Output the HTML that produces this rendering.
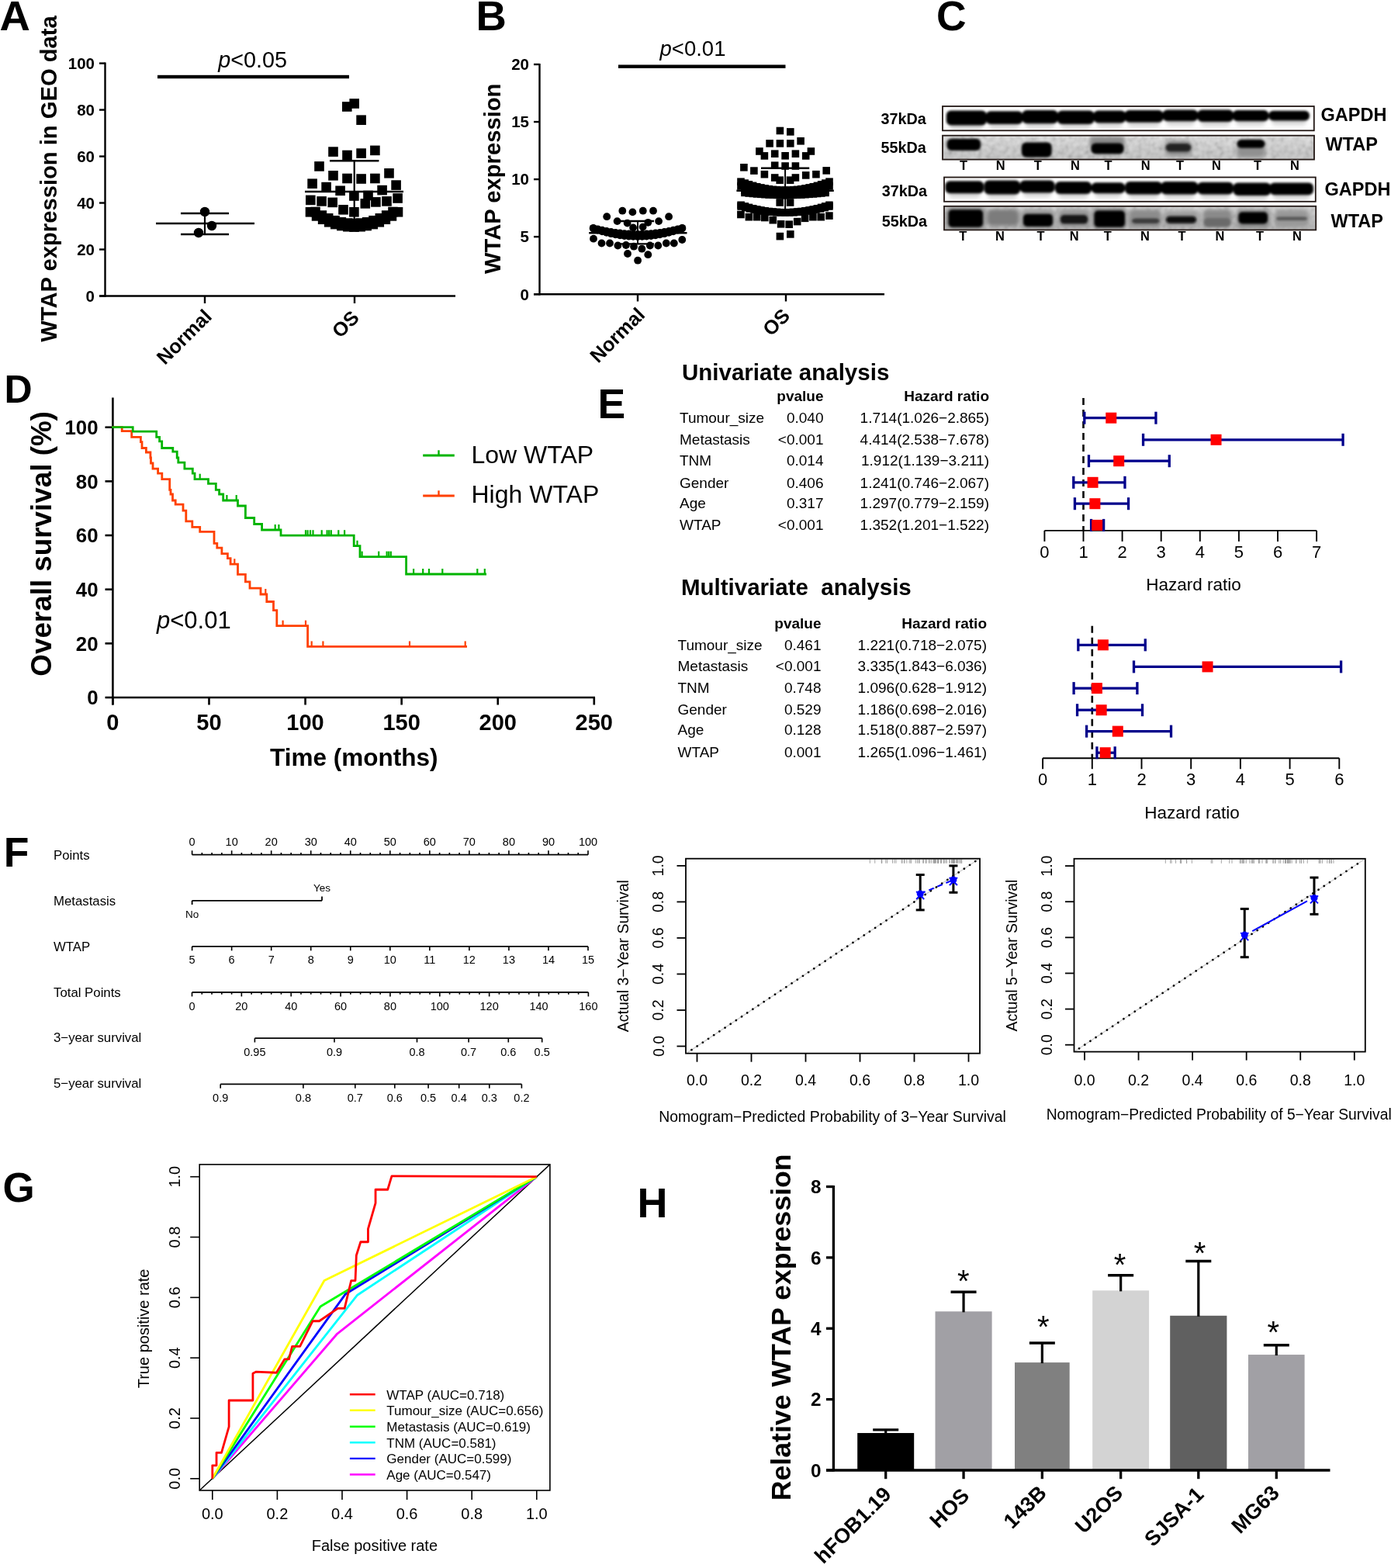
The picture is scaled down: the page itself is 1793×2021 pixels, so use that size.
<!DOCTYPE html><html><head><meta charset="utf-8"><style>html,body{margin:0;padding:0;background:#fff}svg{display:block}</style></head><body>
<svg width="1793" height="2021" viewBox="0 0 1793 2021" font-family="'Liberation Sans', Arial, sans-serif">
<rect width="1793" height="2021" fill="#fff"/>
<text x="-0.5" y="39" font-size="54.5" font-weight="bold">A</text>
<line x1="135.5" y1="80.6" x2="135.5" y2="382.7" stroke="#000" stroke-width="2.4" />
<line x1="128" y1="381.5" x2="135.5" y2="381.5" stroke="#000" stroke-width="2.4" />
<text x="122" y="388.8" font-size="20.5" font-weight="bold" text-anchor="end">0</text>
<line x1="128" y1="321.52" x2="135.5" y2="321.52" stroke="#000" stroke-width="2.4" />
<text x="122" y="328.82" font-size="20.5" font-weight="bold" text-anchor="end">20</text>
<line x1="128" y1="261.54" x2="135.5" y2="261.54" stroke="#000" stroke-width="2.4" />
<text x="122" y="268.84" font-size="20.5" font-weight="bold" text-anchor="end">40</text>
<line x1="128" y1="201.56" x2="135.5" y2="201.56" stroke="#000" stroke-width="2.4" />
<text x="122" y="208.86" font-size="20.5" font-weight="bold" text-anchor="end">60</text>
<line x1="128" y1="141.58" x2="135.5" y2="141.58" stroke="#000" stroke-width="2.4" />
<text x="122" y="148.88" font-size="20.5" font-weight="bold" text-anchor="end">80</text>
<line x1="128" y1="81.6" x2="135.5" y2="81.6" stroke="#000" stroke-width="2.4" />
<text x="122" y="88.9" font-size="20.5" font-weight="bold" text-anchor="end">100</text>
<line x1="128" y1="381.5" x2="587" y2="381.5" stroke="#000" stroke-width="2.6" />
<line x1="264" y1="381.5" x2="264" y2="391" stroke="#000" stroke-width="2.4" />
<line x1="457" y1="381.5" x2="457" y2="391" stroke="#000" stroke-width="2.4" />
<text x="274.4" y="409.5" font-size="25.4" font-weight="bold" text-anchor="end" transform="rotate(-45 274.4 409.5)">Normal</text>
<text x="464.5" y="411" font-size="25.4" font-weight="bold" text-anchor="end" transform="rotate(-45 464.5 411)">OS</text>
<text x="73" y="230.5" font-size="29.2" font-weight="bold" text-anchor="middle" transform="rotate(-90 73 230.5)">WTAP expression in GEO data</text>
<text x="325.7" y="86.8" font-size="28.8" text-anchor="middle"><tspan font-style="italic">p</tspan>&lt;0.05</text>
<rect x="203" y="96.8" width="247" height="4.4" fill="#000" />
<circle cx="264" cy="273" r="6.2" fill="#000" />
<circle cx="273" cy="291" r="6.2" fill="#000" />
<circle cx="256" cy="300" r="6.2" fill="#000" />
<line x1="201" y1="288" x2="328" y2="288" stroke="#000" stroke-width="2.6" />
<line x1="233" y1="275" x2="295" y2="275" stroke="#000" stroke-width="2.6" />
<line x1="233" y1="302" x2="295" y2="302" stroke="#000" stroke-width="2.6" />
<line x1="264" y1="275" x2="264" y2="302" stroke="#000" stroke-width="2.2" />
<rect x="441" y="131.2" width="12.6" height="12.6" fill="#000" />
<rect x="450.4" y="127.2" width="12.6" height="12.6" fill="#000" />
<rect x="459.3" y="148.4" width="12.6" height="12.6" fill="#000" />
<rect x="423.2" y="189.3" width="12.6" height="12.6" fill="#000" />
<rect x="441.2" y="193.7" width="12.6" height="12.6" fill="#000" />
<rect x="459.3" y="191.3" width="12.6" height="12.6" fill="#000" />
<rect x="477.1" y="187.6" width="12.6" height="12.6" fill="#000" />
<rect x="405.2" y="208.1" width="12.6" height="12.6" fill="#000" />
<rect x="423.2" y="220" width="12.6" height="12.6" fill="#000" />
<rect x="441.2" y="223.7" width="12.6" height="12.6" fill="#000" />
<rect x="459.3" y="224.2" width="12.6" height="12.6" fill="#000" />
<rect x="477.1" y="223.7" width="12.6" height="12.6" fill="#000" />
<rect x="495.2" y="217" width="12.6" height="12.6" fill="#000" />
<rect x="396.3" y="230.4" width="12.6" height="12.6" fill="#000" />
<rect x="414.3" y="234.8" width="12.6" height="12.6" fill="#000" />
<rect x="432.3" y="239.5" width="12.6" height="12.6" fill="#000" />
<rect x="486.3" y="238.8" width="12.6" height="12.6" fill="#000" />
<rect x="504.3" y="232.3" width="12.6" height="12.6" fill="#000" />
<rect x="394" y="251.6" width="12.6" height="12.6" fill="#000" />
<rect x="408.3" y="253.1" width="12.6" height="12.6" fill="#000" />
<rect x="422.4" y="254.6" width="12.6" height="12.6" fill="#000" />
<rect x="450.1" y="246.2" width="12.6" height="12.6" fill="#000" />
<rect x="468.2" y="245.7" width="12.6" height="12.6" fill="#000" />
<rect x="464.5" y="256.1" width="12.6" height="12.6" fill="#000" />
<rect x="478.1" y="254.1" width="12.6" height="12.6" fill="#000" />
<rect x="492.2" y="253.1" width="12.6" height="12.6" fill="#000" />
<rect x="506.3" y="249.2" width="12.6" height="12.6" fill="#000" />
<rect x="436.2" y="264" width="12.6" height="12.6" fill="#000" />
<rect x="450.1" y="267" width="12.6" height="12.6" fill="#000" />
<rect x="393.7" y="267" width="12.6" height="12.6" fill="#000" />
<rect x="401.77" y="272.12" width="12.6" height="12.6" fill="#000" />
<rect x="409.84" y="276.45" width="12.6" height="12.6" fill="#000" />
<rect x="417.91" y="280" width="12.6" height="12.6" fill="#000" />
<rect x="425.99" y="282.76" width="12.6" height="12.6" fill="#000" />
<rect x="434.06" y="284.72" width="12.6" height="12.6" fill="#000" />
<rect x="442.13" y="285.91" width="12.6" height="12.6" fill="#000" />
<rect x="450.2" y="286.3" width="12.6" height="12.6" fill="#000" />
<rect x="458.27" y="285.91" width="12.6" height="12.6" fill="#000" />
<rect x="466.34" y="284.72" width="12.6" height="12.6" fill="#000" />
<rect x="474.41" y="282.76" width="12.6" height="12.6" fill="#000" />
<rect x="482.49" y="280" width="12.6" height="12.6" fill="#000" />
<rect x="490.56" y="276.45" width="12.6" height="12.6" fill="#000" />
<rect x="498.63" y="272.12" width="12.6" height="12.6" fill="#000" />
<rect x="506.7" y="267" width="12.6" height="12.6" fill="#000" />
<rect x="400.2" y="266.7" width="12.6" height="12.6" fill="#000" />
<rect x="408.53" y="271.28" width="12.6" height="12.6" fill="#000" />
<rect x="416.87" y="275.03" width="12.6" height="12.6" fill="#000" />
<rect x="425.2" y="277.95" width="12.6" height="12.6" fill="#000" />
<rect x="433.53" y="280.03" width="12.6" height="12.6" fill="#000" />
<rect x="441.87" y="281.28" width="12.6" height="12.6" fill="#000" />
<rect x="450.2" y="281.7" width="12.6" height="12.6" fill="#000" />
<rect x="458.53" y="281.28" width="12.6" height="12.6" fill="#000" />
<rect x="466.87" y="280.03" width="12.6" height="12.6" fill="#000" />
<rect x="475.2" y="277.95" width="12.6" height="12.6" fill="#000" />
<rect x="483.53" y="275.03" width="12.6" height="12.6" fill="#000" />
<rect x="491.87" y="271.28" width="12.6" height="12.6" fill="#000" />
<rect x="500.2" y="266.7" width="12.6" height="12.6" fill="#000" />
<line x1="393" y1="247" x2="520" y2="247" stroke="#000" stroke-width="2.6" />
<line x1="425" y1="207.3" x2="488.4" y2="207.3" stroke="#000" stroke-width="2.6" />
<line x1="456.7" y1="207.3" x2="456.7" y2="285" stroke="#000" stroke-width="2.2" />
<text x="613.5" y="38.8" font-size="54.5" font-weight="bold">B</text>
<line x1="695.5" y1="82" x2="695.5" y2="380.4" stroke="#000" stroke-width="2.4" />
<line x1="688" y1="379.2" x2="695.5" y2="379.2" stroke="#000" stroke-width="2.4" />
<text x="682" y="386.5" font-size="20.5" font-weight="bold" text-anchor="end">0</text>
<line x1="688" y1="305.15" x2="695.5" y2="305.15" stroke="#000" stroke-width="2.4" />
<text x="682" y="312.45" font-size="20.5" font-weight="bold" text-anchor="end">5</text>
<line x1="688" y1="231.1" x2="695.5" y2="231.1" stroke="#000" stroke-width="2.4" />
<text x="682" y="238.4" font-size="20.5" font-weight="bold" text-anchor="end">10</text>
<line x1="688" y1="157.05" x2="695.5" y2="157.05" stroke="#000" stroke-width="2.4" />
<text x="682" y="164.35" font-size="20.5" font-weight="bold" text-anchor="end">15</text>
<line x1="688" y1="83" x2="695.5" y2="83" stroke="#000" stroke-width="2.4" />
<text x="682" y="90.3" font-size="20.5" font-weight="bold" text-anchor="end">20</text>
<line x1="688" y1="379.2" x2="1140" y2="379.2" stroke="#000" stroke-width="2.6" />
<line x1="822" y1="379.2" x2="822" y2="388.5" stroke="#000" stroke-width="2.4" />
<line x1="1013" y1="379.2" x2="1013" y2="388.5" stroke="#000" stroke-width="2.4" />
<text x="832.8" y="407.2" font-size="25.4" font-weight="bold" text-anchor="end" transform="rotate(-45 832.8 407.2)">Normal</text>
<text x="1019.8" y="408.6" font-size="25.4" font-weight="bold" text-anchor="end" transform="rotate(-45 1019.8 408.6)">OS</text>
<text x="645" y="230.3" font-size="29.2" font-weight="bold" text-anchor="middle" transform="rotate(-90 645 230.3)">WTAP expression</text>
<text x="893" y="72" font-size="27.5" text-anchor="middle"><tspan font-style="italic">p</tspan>&lt;0.01</text>
<rect x="797" y="83.5" width="215.5" height="4.4" fill="#000" />
<circle cx="802.3" cy="271.7" r="4.9" fill="#000" />
<circle cx="815.4" cy="273.4" r="4.9" fill="#000" />
<circle cx="828.8" cy="271.7" r="4.9" fill="#000" />
<circle cx="842" cy="271.7" r="4.9" fill="#000" />
<circle cx="782.2" cy="279.2" r="4.9" fill="#000" />
<circle cx="862.1" cy="279.2" r="4.9" fill="#000" />
<circle cx="795.6" cy="285.1" r="4.9" fill="#000" />
<circle cx="808.6" cy="287.6" r="4.9" fill="#000" />
<circle cx="835.3" cy="286.8" r="4.9" fill="#000" />
<circle cx="849.1" cy="285.1" r="4.9" fill="#000" />
<circle cx="816.1" cy="293.5" r="4.9" fill="#000" />
<circle cx="828.6" cy="292.6" r="4.9" fill="#000" />
<circle cx="765" cy="307.7" r="4.9" fill="#000" />
<circle cx="775.5" cy="313.5" r="4.9" fill="#000" />
<circle cx="786" cy="313.5" r="4.9" fill="#000" />
<circle cx="796.4" cy="316.5" r="4.9" fill="#000" />
<circle cx="806.9" cy="316" r="4.9" fill="#000" />
<circle cx="817" cy="317.7" r="4.9" fill="#000" />
<circle cx="827.4" cy="320.7" r="4.9" fill="#000" />
<circle cx="837.8" cy="316.5" r="4.9" fill="#000" />
<circle cx="848.3" cy="316.5" r="4.9" fill="#000" />
<circle cx="858.8" cy="313.5" r="4.9" fill="#000" />
<circle cx="868.8" cy="313.5" r="4.9" fill="#000" />
<circle cx="879.3" cy="309" r="4.9" fill="#000" />
<circle cx="809" cy="327" r="4.9" fill="#000" />
<circle cx="835.3" cy="328.2" r="4.9" fill="#000" />
<circle cx="822.1" cy="335.7" r="4.9" fill="#000" />
<circle cx="764.7" cy="293.8" r="4.9" fill="#000" />
<circle cx="770.43" cy="295.32" r="4.9" fill="#000" />
<circle cx="776.16" cy="296.68" r="4.9" fill="#000" />
<circle cx="781.89" cy="297.88" r="4.9" fill="#000" />
<circle cx="787.62" cy="298.92" r="4.9" fill="#000" />
<circle cx="793.35" cy="299.8" r="4.9" fill="#000" />
<circle cx="799.08" cy="300.52" r="4.9" fill="#000" />
<circle cx="804.81" cy="301.08" r="4.9" fill="#000" />
<circle cx="810.54" cy="301.48" r="4.9" fill="#000" />
<circle cx="816.27" cy="301.72" r="4.9" fill="#000" />
<circle cx="822" cy="301.8" r="4.9" fill="#000" />
<circle cx="827.73" cy="301.72" r="4.9" fill="#000" />
<circle cx="833.46" cy="301.48" r="4.9" fill="#000" />
<circle cx="839.19" cy="301.08" r="4.9" fill="#000" />
<circle cx="844.92" cy="300.52" r="4.9" fill="#000" />
<circle cx="850.65" cy="299.8" r="4.9" fill="#000" />
<circle cx="856.38" cy="298.92" r="4.9" fill="#000" />
<circle cx="862.11" cy="297.88" r="4.9" fill="#000" />
<circle cx="867.84" cy="296.68" r="4.9" fill="#000" />
<circle cx="873.57" cy="295.32" r="4.9" fill="#000" />
<circle cx="879.3" cy="293.8" r="4.9" fill="#000" />
<circle cx="764.7" cy="294.5" r="4.9" fill="#000" />
<circle cx="770.43" cy="296.5" r="4.9" fill="#000" />
<circle cx="776.16" cy="298.28" r="4.9" fill="#000" />
<circle cx="781.89" cy="299.86" r="4.9" fill="#000" />
<circle cx="787.62" cy="301.22" r="4.9" fill="#000" />
<circle cx="793.35" cy="302.38" r="4.9" fill="#000" />
<circle cx="799.08" cy="303.32" r="4.9" fill="#000" />
<circle cx="804.81" cy="304.06" r="4.9" fill="#000" />
<circle cx="810.54" cy="304.58" r="4.9" fill="#000" />
<circle cx="816.27" cy="304.89" r="4.9" fill="#000" />
<circle cx="822" cy="305" r="4.9" fill="#000" />
<circle cx="827.73" cy="304.89" r="4.9" fill="#000" />
<circle cx="833.46" cy="304.58" r="4.9" fill="#000" />
<circle cx="839.19" cy="304.06" r="4.9" fill="#000" />
<circle cx="844.92" cy="303.32" r="4.9" fill="#000" />
<circle cx="850.65" cy="302.38" r="4.9" fill="#000" />
<circle cx="856.38" cy="301.22" r="4.9" fill="#000" />
<circle cx="862.11" cy="299.86" r="4.9" fill="#000" />
<circle cx="867.84" cy="298.28" r="4.9" fill="#000" />
<circle cx="873.57" cy="296.5" r="4.9" fill="#000" />
<circle cx="879.3" cy="294.5" r="4.9" fill="#000" />
<line x1="759.2" y1="300.2" x2="885.5" y2="300.2" stroke="#000" stroke-width="2.4" />
<line x1="800" y1="285" x2="843" y2="285" stroke="#000" stroke-width="2.4" />
<line x1="800" y1="314.4" x2="843" y2="314.4" stroke="#000" stroke-width="2.4" />
<line x1="822" y1="285" x2="822" y2="314.4" stroke="#000" stroke-width="2" />
<rect x="1000.6" y="163.7" width="9.6" height="9.6" fill="#000" />
<rect x="1014" y="165.1" width="9.6" height="9.6" fill="#000" />
<rect x="987.3" y="180.1" width="9.6" height="9.6" fill="#000" />
<rect x="1000.6" y="180.1" width="9.6" height="9.6" fill="#000" />
<rect x="1014" y="180.1" width="9.6" height="9.6" fill="#000" />
<rect x="1027.3" y="177" width="9.6" height="9.6" fill="#000" />
<rect x="974.1" y="190.2" width="9.6" height="9.6" fill="#000" />
<rect x="980.6" y="196.1" width="9.6" height="9.6" fill="#000" />
<rect x="993.9" y="193.4" width="9.6" height="9.6" fill="#000" />
<rect x="1007.3" y="196" width="9.6" height="9.6" fill="#000" />
<rect x="1020.6" y="193.4" width="9.6" height="9.6" fill="#000" />
<rect x="1033.9" y="196.1" width="9.6" height="9.6" fill="#000" />
<rect x="1040.6" y="190.2" width="9.6" height="9.6" fill="#000" />
<rect x="954.1" y="211" width="9.6" height="9.6" fill="#000" />
<rect x="967.1" y="215.3" width="9.6" height="9.6" fill="#000" />
<rect x="993.9" y="208.4" width="9.6" height="9.6" fill="#000" />
<rect x="1007.3" y="209.2" width="9.6" height="9.6" fill="#000" />
<rect x="1020.6" y="209.2" width="9.6" height="9.6" fill="#000" />
<rect x="1060.4" y="215.1" width="9.6" height="9.6" fill="#000" />
<rect x="980.6" y="219.9" width="9.6" height="9.6" fill="#000" />
<rect x="993.9" y="224.2" width="9.6" height="9.6" fill="#000" />
<rect x="1000.4" y="227.4" width="9.6" height="9.6" fill="#000" />
<rect x="1013.8" y="227.4" width="9.6" height="9.6" fill="#000" />
<rect x="1020.6" y="224.2" width="9.6" height="9.6" fill="#000" />
<rect x="1033.9" y="221.1" width="9.6" height="9.6" fill="#000" />
<rect x="1047.1" y="219.9" width="9.6" height="9.6" fill="#000" />
<rect x="950.1" y="271.7" width="9.6" height="9.6" fill="#000" />
<rect x="960.6" y="274.9" width="9.6" height="9.6" fill="#000" />
<rect x="970.9" y="274.9" width="9.6" height="9.6" fill="#000" />
<rect x="981" y="275.7" width="9.6" height="9.6" fill="#000" />
<rect x="991.5" y="278.9" width="9.6" height="9.6" fill="#000" />
<rect x="1001.8" y="284" width="9.6" height="9.6" fill="#000" />
<rect x="1012.4" y="284.4" width="9.6" height="9.6" fill="#000" />
<rect x="1022.9" y="280.8" width="9.6" height="9.6" fill="#000" />
<rect x="1032.8" y="276.5" width="9.6" height="9.6" fill="#000" />
<rect x="1043.1" y="274.9" width="9.6" height="9.6" fill="#000" />
<rect x="1053.4" y="274.9" width="9.6" height="9.6" fill="#000" />
<rect x="1064.1" y="273.3" width="9.6" height="9.6" fill="#000" />
<rect x="1000.6" y="299.8" width="9.6" height="9.6" fill="#000" />
<rect x="1014" y="297.1" width="9.6" height="9.6" fill="#000" />
<rect x="1000.4" y="256.2" width="9.6" height="9.6" fill="#000" />
<rect x="1013.8" y="256.2" width="9.6" height="9.6" fill="#000" />
<rect x="950.2" y="229.4" width="9.6" height="9.6" fill="#000" />
<rect x="955.38" y="231.31" width="9.6" height="9.6" fill="#000" />
<rect x="960.56" y="233.04" width="9.6" height="9.6" fill="#000" />
<rect x="965.75" y="234.58" width="9.6" height="9.6" fill="#000" />
<rect x="970.93" y="235.95" width="9.6" height="9.6" fill="#000" />
<rect x="976.11" y="237.13" width="9.6" height="9.6" fill="#000" />
<rect x="981.29" y="238.13" width="9.6" height="9.6" fill="#000" />
<rect x="986.47" y="238.95" width="9.6" height="9.6" fill="#000" />
<rect x="991.65" y="239.58" width="9.6" height="9.6" fill="#000" />
<rect x="996.84" y="240.04" width="9.6" height="9.6" fill="#000" />
<rect x="1002.02" y="240.31" width="9.6" height="9.6" fill="#000" />
<rect x="1007.2" y="240.4" width="9.6" height="9.6" fill="#000" />
<rect x="1012.38" y="240.31" width="9.6" height="9.6" fill="#000" />
<rect x="1017.56" y="240.04" width="9.6" height="9.6" fill="#000" />
<rect x="1022.75" y="239.58" width="9.6" height="9.6" fill="#000" />
<rect x="1027.93" y="238.95" width="9.6" height="9.6" fill="#000" />
<rect x="1033.11" y="238.13" width="9.6" height="9.6" fill="#000" />
<rect x="1038.29" y="237.13" width="9.6" height="9.6" fill="#000" />
<rect x="1043.47" y="235.95" width="9.6" height="9.6" fill="#000" />
<rect x="1048.65" y="234.58" width="9.6" height="9.6" fill="#000" />
<rect x="1053.84" y="233.04" width="9.6" height="9.6" fill="#000" />
<rect x="1059.02" y="231.31" width="9.6" height="9.6" fill="#000" />
<rect x="1064.2" y="229.4" width="9.6" height="9.6" fill="#000" />
<rect x="950.2" y="235.2" width="9.6" height="9.6" fill="#000" />
<rect x="955.38" y="236.59" width="9.6" height="9.6" fill="#000" />
<rect x="960.56" y="237.84" width="9.6" height="9.6" fill="#000" />
<rect x="965.75" y="238.97" width="9.6" height="9.6" fill="#000" />
<rect x="970.93" y="239.96" width="9.6" height="9.6" fill="#000" />
<rect x="976.11" y="240.82" width="9.6" height="9.6" fill="#000" />
<rect x="981.29" y="241.55" width="9.6" height="9.6" fill="#000" />
<rect x="986.47" y="242.14" width="9.6" height="9.6" fill="#000" />
<rect x="991.65" y="242.6" width="9.6" height="9.6" fill="#000" />
<rect x="996.84" y="242.94" width="9.6" height="9.6" fill="#000" />
<rect x="1002.02" y="243.13" width="9.6" height="9.6" fill="#000" />
<rect x="1007.2" y="243.2" width="9.6" height="9.6" fill="#000" />
<rect x="1012.38" y="243.13" width="9.6" height="9.6" fill="#000" />
<rect x="1017.56" y="242.94" width="9.6" height="9.6" fill="#000" />
<rect x="1022.75" y="242.6" width="9.6" height="9.6" fill="#000" />
<rect x="1027.93" y="242.14" width="9.6" height="9.6" fill="#000" />
<rect x="1033.11" y="241.55" width="9.6" height="9.6" fill="#000" />
<rect x="1038.29" y="240.82" width="9.6" height="9.6" fill="#000" />
<rect x="1043.47" y="239.96" width="9.6" height="9.6" fill="#000" />
<rect x="1048.65" y="238.97" width="9.6" height="9.6" fill="#000" />
<rect x="1053.84" y="237.84" width="9.6" height="9.6" fill="#000" />
<rect x="1059.02" y="236.59" width="9.6" height="9.6" fill="#000" />
<rect x="1064.2" y="235.2" width="9.6" height="9.6" fill="#000" />
<rect x="955.2" y="241.2" width="9.6" height="9.6" fill="#000" />
<rect x="960.4" y="242.24" width="9.6" height="9.6" fill="#000" />
<rect x="965.6" y="243.18" width="9.6" height="9.6" fill="#000" />
<rect x="970.8" y="244" width="9.6" height="9.6" fill="#000" />
<rect x="976" y="244.72" width="9.6" height="9.6" fill="#000" />
<rect x="981.2" y="245.32" width="9.6" height="9.6" fill="#000" />
<rect x="986.4" y="245.82" width="9.6" height="9.6" fill="#000" />
<rect x="991.6" y="246.2" width="9.6" height="9.6" fill="#000" />
<rect x="996.8" y="246.48" width="9.6" height="9.6" fill="#000" />
<rect x="1002" y="246.64" width="9.6" height="9.6" fill="#000" />
<rect x="1007.2" y="246.7" width="9.6" height="9.6" fill="#000" />
<rect x="1012.4" y="246.64" width="9.6" height="9.6" fill="#000" />
<rect x="1017.6" y="246.48" width="9.6" height="9.6" fill="#000" />
<rect x="1022.8" y="246.2" width="9.6" height="9.6" fill="#000" />
<rect x="1028" y="245.82" width="9.6" height="9.6" fill="#000" />
<rect x="1033.2" y="245.32" width="9.6" height="9.6" fill="#000" />
<rect x="1038.4" y="244.72" width="9.6" height="9.6" fill="#000" />
<rect x="1043.6" y="244" width="9.6" height="9.6" fill="#000" />
<rect x="1048.8" y="243.18" width="9.6" height="9.6" fill="#000" />
<rect x="1054" y="242.24" width="9.6" height="9.6" fill="#000" />
<rect x="1059.2" y="241.2" width="9.6" height="9.6" fill="#000" />
<rect x="955.2" y="243.6" width="9.6" height="9.6" fill="#000" />
<rect x="960.4" y="244.17" width="9.6" height="9.6" fill="#000" />
<rect x="965.6" y="244.68" width="9.6" height="9.6" fill="#000" />
<rect x="970.8" y="245.13" width="9.6" height="9.6" fill="#000" />
<rect x="976" y="245.52" width="9.6" height="9.6" fill="#000" />
<rect x="981.2" y="245.85" width="9.6" height="9.6" fill="#000" />
<rect x="986.4" y="246.12" width="9.6" height="9.6" fill="#000" />
<rect x="991.6" y="246.33" width="9.6" height="9.6" fill="#000" />
<rect x="996.8" y="246.48" width="9.6" height="9.6" fill="#000" />
<rect x="1002" y="246.57" width="9.6" height="9.6" fill="#000" />
<rect x="1007.2" y="246.6" width="9.6" height="9.6" fill="#000" />
<rect x="1012.4" y="246.57" width="9.6" height="9.6" fill="#000" />
<rect x="1017.6" y="246.48" width="9.6" height="9.6" fill="#000" />
<rect x="1022.8" y="246.33" width="9.6" height="9.6" fill="#000" />
<rect x="1028" y="246.12" width="9.6" height="9.6" fill="#000" />
<rect x="1033.2" y="245.85" width="9.6" height="9.6" fill="#000" />
<rect x="1038.4" y="245.52" width="9.6" height="9.6" fill="#000" />
<rect x="1043.6" y="245.13" width="9.6" height="9.6" fill="#000" />
<rect x="1048.8" y="244.68" width="9.6" height="9.6" fill="#000" />
<rect x="1054" y="244.17" width="9.6" height="9.6" fill="#000" />
<rect x="1059.2" y="243.6" width="9.6" height="9.6" fill="#000" />
<rect x="950.3" y="259.5" width="9.6" height="9.6" fill="#000" />
<rect x="955.47" y="261.15" width="9.6" height="9.6" fill="#000" />
<rect x="960.65" y="262.64" width="9.6" height="9.6" fill="#000" />
<rect x="965.82" y="263.98" width="9.6" height="9.6" fill="#000" />
<rect x="970.99" y="265.15" width="9.6" height="9.6" fill="#000" />
<rect x="976.16" y="266.17" width="9.6" height="9.6" fill="#000" />
<rect x="981.34" y="267.04" width="9.6" height="9.6" fill="#000" />
<rect x="986.51" y="267.74" width="9.6" height="9.6" fill="#000" />
<rect x="991.68" y="268.29" width="9.6" height="9.6" fill="#000" />
<rect x="996.85" y="268.69" width="9.6" height="9.6" fill="#000" />
<rect x="1002.03" y="268.92" width="9.6" height="9.6" fill="#000" />
<rect x="1007.2" y="269" width="9.6" height="9.6" fill="#000" />
<rect x="1012.37" y="268.92" width="9.6" height="9.6" fill="#000" />
<rect x="1017.55" y="268.69" width="9.6" height="9.6" fill="#000" />
<rect x="1022.72" y="268.29" width="9.6" height="9.6" fill="#000" />
<rect x="1027.89" y="267.74" width="9.6" height="9.6" fill="#000" />
<rect x="1033.06" y="267.04" width="9.6" height="9.6" fill="#000" />
<rect x="1038.24" y="266.17" width="9.6" height="9.6" fill="#000" />
<rect x="1043.41" y="265.15" width="9.6" height="9.6" fill="#000" />
<rect x="1048.58" y="263.98" width="9.6" height="9.6" fill="#000" />
<rect x="1053.75" y="262.64" width="9.6" height="9.6" fill="#000" />
<rect x="1058.93" y="261.15" width="9.6" height="9.6" fill="#000" />
<rect x="1064.1" y="259.5" width="9.6" height="9.6" fill="#000" />
<rect x="950.3" y="261.2" width="9.6" height="9.6" fill="#000" />
<rect x="955.99" y="262.72" width="9.6" height="9.6" fill="#000" />
<rect x="961.68" y="264.08" width="9.6" height="9.6" fill="#000" />
<rect x="967.37" y="265.28" width="9.6" height="9.6" fill="#000" />
<rect x="973.06" y="266.32" width="9.6" height="9.6" fill="#000" />
<rect x="978.75" y="267.2" width="9.6" height="9.6" fill="#000" />
<rect x="984.44" y="267.92" width="9.6" height="9.6" fill="#000" />
<rect x="990.13" y="268.48" width="9.6" height="9.6" fill="#000" />
<rect x="995.82" y="268.88" width="9.6" height="9.6" fill="#000" />
<rect x="1001.51" y="269.12" width="9.6" height="9.6" fill="#000" />
<rect x="1007.2" y="269.2" width="9.6" height="9.6" fill="#000" />
<rect x="1012.89" y="269.12" width="9.6" height="9.6" fill="#000" />
<rect x="1018.58" y="268.88" width="9.6" height="9.6" fill="#000" />
<rect x="1024.27" y="268.48" width="9.6" height="9.6" fill="#000" />
<rect x="1029.96" y="267.92" width="9.6" height="9.6" fill="#000" />
<rect x="1035.65" y="267.2" width="9.6" height="9.6" fill="#000" />
<rect x="1041.34" y="266.32" width="9.6" height="9.6" fill="#000" />
<rect x="1047.03" y="265.28" width="9.6" height="9.6" fill="#000" />
<rect x="1052.72" y="264.08" width="9.6" height="9.6" fill="#000" />
<rect x="1058.41" y="262.72" width="9.6" height="9.6" fill="#000" />
<rect x="1064.1" y="261.2" width="9.6" height="9.6" fill="#000" />
<line x1="949.4" y1="245.7" x2="1074.8" y2="245.7" stroke="#000" stroke-width="2.4" />
<line x1="981" y1="216.8" x2="1043.2" y2="216.8" stroke="#000" stroke-width="2.4" />
<line x1="1012.1" y1="216.8" x2="1012.1" y2="274" stroke="#000" stroke-width="2" />
<text x="1207" y="39" font-size="53.5" font-weight="bold">C</text>
<defs><filter id="bl" x="-20%" y="-50%" width="140%" height="200%"><feGaussianBlur stdDeviation="1.6"/></filter><filter id="bl2" x="-20%" y="-50%" width="140%" height="200%"><feGaussianBlur stdDeviation="2.6"/></filter><filter id="bl3" x="-20%" y="-50%" width="140%" height="200%"><feGaussianBlur stdDeviation="1.0"/></filter><filter id="nz" x="0" y="0" width="100%" height="100%"><feTurbulence type="fractalNoise" baseFrequency="0.18" numOctaves="2" seed="4"/><feColorMatrix type="matrix" values="0 0 0 1.6 -0.3  0 0 0 1.6 -0.3  0 0 0 1.6 -0.3  0 0 0 0 1"/><feGaussianBlur stdDeviation="0.8"/></filter><clipPath id="c1"><rect x="1215" y="137" width="479" height="31"/></clipPath><clipPath id="c2"><rect x="1215" y="175" width="479" height="30.5"/></clipPath><clipPath id="c3"><rect x="1217" y="228.5" width="479" height="31"/></clipPath><clipPath id="c4"><rect x="1217" y="266" width="479" height="30"/></clipPath></defs>
<rect x="1215" y="137" width="479" height="31" fill="#fff" />
<g clip-path="url(#c1)">
<g filter="url(#bl2)" fill="#dadada">
<rect x="1224" y="157.4" width="43.5" height="10" fill="#d8d8d8" rx="5"/>
<rect x="1274.9" y="156" width="39.3" height="10" fill="#d8d8d8" rx="5"/>
<rect x="1321.6" y="155.3" width="38" height="10" fill="#d8d8d8" rx="5"/>
<rect x="1367" y="156" width="39.3" height="10" fill="#d8d8d8" rx="5"/>
<rect x="1413.7" y="154.6" width="33.3" height="10" fill="#d8d8d8" rx="5"/>
<rect x="1453.7" y="153.7" width="41.6" height="10" fill="#d8d8d8" rx="5"/>
<rect x="1502.8" y="152.3" width="37.3" height="10" fill="#d8d8d8" rx="5"/>
<rect x="1547.6" y="153" width="38.1" height="10" fill="#d8d8d8" rx="5"/>
<rect x="1593" y="152.3" width="38.2" height="10" fill="#d8d8d8" rx="5"/>
<rect x="1639.3" y="151.6" width="44.5" height="10" fill="#d8d8d8" rx="5"/>
</g><g filter="url(#bl)">
<rect x="1219.8" y="142.5" width="51.9" height="18.9" fill="#000" rx="6"/>
<rect x="1270.7" y="143.2" width="47.7" height="16.8" fill="#000" rx="6"/>
<rect x="1317.4" y="141.9" width="46.4" height="17.4" fill="#000" rx="6"/>
<rect x="1362.8" y="142.5" width="47.7" height="17.5" fill="#000" rx="6"/>
<rect x="1409.5" y="142.5" width="41.7" height="16.1" fill="#000" rx="6"/>
<rect x="1449.5" y="142.1" width="50" height="15.6" fill="#000" rx="6"/>
<rect x="1498.6" y="141.4" width="45.7" height="14.9" fill="#000" rx="6"/>
<rect x="1543.4" y="141.4" width="46.5" height="15.6" fill="#000" rx="6"/>
<rect x="1588.8" y="142" width="46.6" height="14.3" fill="#000" rx="6"/>
<rect x="1635.1" y="142.8" width="52.9" height="12.8" fill="#000" rx="6"/>
</g></g>
<rect x="1217" y="228.5" width="479" height="31" fill="#fff" />
<g clip-path="url(#c3)">
<g filter="url(#bl2)" fill="#dadada">
<rect x="1222.6" y="245.2" width="41.4" height="10" fill="#d8d8d8" rx="5"/>
<rect x="1272.8" y="246.6" width="38" height="10" fill="#d8d8d8" rx="5"/>
<rect x="1318.8" y="244.5" width="36.6" height="10" fill="#d8d8d8" rx="5"/>
<rect x="1364.2" y="245.9" width="38.6" height="10" fill="#d8d8d8" rx="5"/>
<rect x="1410.9" y="245.2" width="35.1" height="10" fill="#d8d8d8" rx="5"/>
<rect x="1454.4" y="246.4" width="39.5" height="10" fill="#d8d8d8" rx="5"/>
<rect x="1500.6" y="246.4" width="39.5" height="10" fill="#d8d8d8" rx="5"/>
<rect x="1547.6" y="246.4" width="38.1" height="10" fill="#d8d8d8" rx="5"/>
<rect x="1593.8" y="247.9" width="40.2" height="10" fill="#d8d8d8" rx="5"/>
<rect x="1640.7" y="247.2" width="48.1" height="10" fill="#d8d8d8" rx="5"/>
</g><g filter="url(#bl)">
<rect x="1218.4" y="233.2" width="49.8" height="16" fill="#000" rx="6"/>
<rect x="1268.6" y="232.5" width="46.4" height="18.1" fill="#000" rx="6"/>
<rect x="1314.6" y="232.5" width="45" height="16" fill="#000" rx="6"/>
<rect x="1360" y="233.9" width="47" height="16" fill="#000" rx="6"/>
<rect x="1406.7" y="235.2" width="43.5" height="14" fill="#000" rx="6"/>
<rect x="1450.2" y="234.1" width="47.9" height="16.3" fill="#000" rx="6"/>
<rect x="1496.4" y="234.1" width="47.9" height="16.3" fill="#000" rx="6"/>
<rect x="1543.4" y="234.8" width="46.5" height="15.6" fill="#000" rx="6"/>
<rect x="1589.6" y="235.5" width="48.6" height="16.4" fill="#000" rx="6"/>
<rect x="1636.5" y="235.5" width="56.5" height="15.7" fill="#000" rx="6"/>
</g></g>
<linearGradient id="wg1" x1="0" y1="0" x2="0" y2="1"><stop offset="0" stop-color="#e2e2e2"/><stop offset="0.55" stop-color="#c9c9c9"/><stop offset="1" stop-color="#c4c4c4"/></linearGradient>
<linearGradient id="wg2" x1="0" y1="0" x2="0" y2="1"><stop offset="0" stop-color="#d2d2d2"/><stop offset="0.5" stop-color="#bcbcbc"/><stop offset="1" stop-color="#b4b4b4"/></linearGradient>
<g clip-path="url(#c2)">
<rect x="1215" y="175" width="479" height="30.5" fill="url(#wg1)" />
<rect x="1215" y="175" width="479" height="30.5" fill="#000" filter="url(#nz)" opacity="0.22"/>
<g filter="url(#bl2)">
<rect x="1404.3" y="176" width="45.7" height="14" fill="#8a8a8a" rx="6"/>
<rect x="1501.9" y="181" width="34.1" height="20" fill="#8f8f8f" rx="6"/>
<rect x="1594.4" y="186" width="36.2" height="17" fill="#909090" rx="6"/>
</g><g filter="url(#bl)">
<rect x="1220.5" y="178.8" width="43.7" height="15.1" fill="#000" rx="6"/>
<rect x="1316.8" y="183.6" width="38.9" height="19.1" fill="#050505" rx="6"/>
<rect x="1406.3" y="184.5" width="42.4" height="14" fill="#000" rx="6"/>
<rect x="1502.5" y="185" width="33" height="10.5" fill="#222" rx="6"/>
<rect x="1594.4" y="179.8" width="36.2" height="11" fill="#000" rx="6"/>
</g></g>
<g clip-path="url(#c4)">
<rect x="1217" y="266" width="479" height="30" fill="url(#wg2)" />
<rect x="1217" y="266" width="479" height="30" fill="#000" filter="url(#nz)" opacity="0.22"/>
<g filter="url(#bl2)">
<rect x="1220" y="267" width="50" height="28" fill="#8a8a8a" rx="6"/>
<rect x="1272.4" y="269.5" width="41" height="21.5" fill="#7c7c7c" rx="6"/>
<rect x="1316" y="270" width="44" height="25" fill="#9a9a9a" rx="6"/>
<rect x="1364" y="270" width="41" height="23" fill="#959595" rx="6"/>
<rect x="1408" y="268" width="44" height="27" fill="#8a8a8a" rx="6"/>
<rect x="1455" y="270" width="42" height="23" fill="#8c8c8c" rx="6"/>
<rect x="1500" y="272" width="45" height="20" fill="#9c9c9c" rx="6"/>
<rect x="1550.4" y="270" width="37.6" height="23" fill="#8a8a8a" rx="6"/>
<rect x="1594" y="270" width="43" height="24" fill="#8a8a8a" rx="6"/>
<rect x="1643" y="270" width="44" height="23" fill="#999" rx="6"/>
</g><g filter="url(#bl)">
<rect x="1222.5" y="270.2" width="44.5" height="22.5" fill="#000" rx="5"/>
<rect x="1318.9" y="275.7" width="38.2" height="16.3" fill="#000" rx="5"/>
<rect x="1366.7" y="277" width="35.5" height="11.6" fill="#151515" rx="5"/>
<rect x="1410.4" y="271.6" width="39.6" height="21.1" fill="#000" rx="5"/>
<rect x="1459" y="281.5" width="35.6" height="6.5" fill="#3a3a3a" rx="5"/>
<rect x="1503" y="278.7" width="39" height="9.1" fill="#080808" rx="5"/>
<rect x="1552" y="281" width="34" height="11" fill="#6a6a6a" rx="5"/>
<rect x="1596.4" y="273.2" width="37.6" height="15.3" fill="#000" rx="5"/>
<rect x="1645" y="279.5" width="40" height="4.5" fill="#555" rx="5"/>
</g></g>
<rect x="1215" y="137" width="478.8" height="31.3" fill="none" stroke="#231815" stroke-width="1.8"/>
<rect x="1215" y="174.7" width="479.0" height="30.9" fill="none" stroke="#231815" stroke-width="1.8"/>
<rect x="1217" y="228.5" width="478.8" height="31.3" fill="none" stroke="#231815" stroke-width="1.8"/>
<rect x="1217" y="265.8" width="479.2" height="30.6" fill="none" stroke="#231815" stroke-width="1.8"/>
<text x="1135.5" y="160.3" font-size="19.8" font-weight="bold">37kDa</text>
<text x="1135.5" y="197.4" font-size="19.8" font-weight="bold">55kDa</text>
<text x="1136.8" y="253.1" font-size="19.8" font-weight="bold">37kDa</text>
<text x="1136.8" y="291.7" font-size="19.8" font-weight="bold">55kDa</text>
<text x="1702.5" y="155.8" font-size="23.5" font-weight="bold">GAPDH</text>
<text x="1708.5" y="193.8" font-size="23.5" font-weight="bold">WTAP</text>
<text x="1707.5" y="251.5" font-size="23.5" font-weight="bold">GAPDH</text>
<text x="1715.5" y="292.9" font-size="23.5" font-weight="bold">WTAP</text>
<text x="1242" y="218.9" font-size="16.4" font-weight="bold" text-anchor="middle">T</text>
<text x="1289.7" y="218.9" font-size="16.4" font-weight="bold" text-anchor="middle">N</text>
<text x="1337.7" y="218.9" font-size="16.4" font-weight="bold" text-anchor="middle">T</text>
<text x="1385.8" y="218.9" font-size="16.4" font-weight="bold" text-anchor="middle">N</text>
<text x="1428.6" y="218.9" font-size="16.4" font-weight="bold" text-anchor="middle">T</text>
<text x="1476.6" y="218.9" font-size="16.4" font-weight="bold" text-anchor="middle">N</text>
<text x="1520.9" y="218.9" font-size="16.4" font-weight="bold" text-anchor="middle">T</text>
<text x="1567.8" y="218.9" font-size="16.4" font-weight="bold" text-anchor="middle">N</text>
<text x="1621.1" y="218.9" font-size="16.4" font-weight="bold" text-anchor="middle">T</text>
<text x="1668.8" y="218.9" font-size="16.4" font-weight="bold" text-anchor="middle">N</text>
<text x="1241.2" y="309.7" font-size="16.4" font-weight="bold" text-anchor="middle">T</text>
<text x="1289" y="309.7" font-size="16.4" font-weight="bold" text-anchor="middle">N</text>
<text x="1341.5" y="309.7" font-size="16.4" font-weight="bold" text-anchor="middle">T</text>
<text x="1384.6" y="309.7" font-size="16.4" font-weight="bold" text-anchor="middle">N</text>
<text x="1427.8" y="309.7" font-size="16.4" font-weight="bold" text-anchor="middle">T</text>
<text x="1475.9" y="309.7" font-size="16.4" font-weight="bold" text-anchor="middle">N</text>
<text x="1523.5" y="309.7" font-size="16.4" font-weight="bold" text-anchor="middle">T</text>
<text x="1572.3" y="309.7" font-size="16.4" font-weight="bold" text-anchor="middle">N</text>
<text x="1624.1" y="309.7" font-size="16.4" font-weight="bold" text-anchor="middle">T</text>
<text x="1671.8" y="309.7" font-size="16.4" font-weight="bold" text-anchor="middle">N</text>
<text x="5.5" y="519" font-size="50" font-weight="bold">D</text>
<line x1="145.4" y1="512.5" x2="145.4" y2="908.5" stroke="#000" stroke-width="2.6" />
<line x1="135.5" y1="899" x2="145.4" y2="899" stroke="#000" stroke-width="2.6" />
<text x="126.5" y="908.2" font-size="25.8" font-weight="bold" text-anchor="end">0</text>
<line x1="135.5" y1="829.34" x2="145.4" y2="829.34" stroke="#000" stroke-width="2.6" />
<text x="126.5" y="838.54" font-size="25.8" font-weight="bold" text-anchor="end">20</text>
<line x1="135.5" y1="759.68" x2="145.4" y2="759.68" stroke="#000" stroke-width="2.6" />
<text x="126.5" y="768.88" font-size="25.8" font-weight="bold" text-anchor="end">40</text>
<line x1="135.5" y1="690.02" x2="145.4" y2="690.02" stroke="#000" stroke-width="2.6" />
<text x="126.5" y="699.22" font-size="25.8" font-weight="bold" text-anchor="end">60</text>
<line x1="135.5" y1="620.36" x2="145.4" y2="620.36" stroke="#000" stroke-width="2.6" />
<text x="126.5" y="629.56" font-size="25.8" font-weight="bold" text-anchor="end">80</text>
<line x1="135.5" y1="550.7" x2="145.4" y2="550.7" stroke="#000" stroke-width="2.6" />
<text x="126.5" y="559.9" font-size="25.8" font-weight="bold" text-anchor="end">100</text>
<line x1="145.4" y1="899" x2="767" y2="899" stroke="#000" stroke-width="2.6" />
<line x1="145.4" y1="899" x2="145.4" y2="908.5" stroke="#000" stroke-width="2.6" />
<text x="145.4" y="941.3" font-size="29" font-weight="bold" text-anchor="middle">0</text>
<line x1="269.48" y1="899" x2="269.48" y2="908.5" stroke="#000" stroke-width="2.6" />
<text x="269.48" y="941.3" font-size="29" font-weight="bold" text-anchor="middle">50</text>
<line x1="393.56" y1="899" x2="393.56" y2="908.5" stroke="#000" stroke-width="2.6" />
<text x="393.56" y="941.3" font-size="29" font-weight="bold" text-anchor="middle">100</text>
<line x1="517.64" y1="899" x2="517.64" y2="908.5" stroke="#000" stroke-width="2.6" />
<text x="517.64" y="941.3" font-size="29" font-weight="bold" text-anchor="middle">150</text>
<line x1="641.72" y1="899" x2="641.72" y2="908.5" stroke="#000" stroke-width="2.6" />
<text x="641.72" y="941.3" font-size="29" font-weight="bold" text-anchor="middle">200</text>
<line x1="765.8" y1="899" x2="765.8" y2="908.5" stroke="#000" stroke-width="2.6" />
<text x="765.8" y="941.3" font-size="29" font-weight="bold" text-anchor="middle">250</text>
<text x="456.2" y="987" font-size="31.5" font-weight="bold" text-anchor="middle">Time (months)</text>
<text x="66" y="700.9" font-size="36.8" font-weight="bold" text-anchor="middle" transform="rotate(-90 66 700.9)">Overall survival (%)</text>
<polyline points="145.5,550.6 157.2,550.6 157.2,555.6 169.7,555.6 169.7,563.4 181.4,563.4 181.4,569.7 183,569.7 183,577.5 188.4,577.5 188.4,583 193.9,583 193.9,590 194.5,590 194.5,597 197,597 197,604.1 203.6,604.1 203.6,610.2 208.8,610.2 208.8,617.7 218.7,617.7 218.7,631.4 220,631.4 220,637 222.5,637 222.5,645 226.2,645 226.2,650.2 236,650.2 236,658.1 239.8,658.1 239.8,671.8 247.8,671.8 247.8,679.3 257.7,679.3 257.7,685.4 276,685.4 276,700.4 279.8,700.4 279.8,706.1 285.9,706.1 285.9,713.6 293.4,713.6 293.4,719.7 297.1,719.7 297.1,727.2 306.5,727.2 306.5,740.4 316.4,740.4 316.4,749.8 322,749.8 322,758.2 336,758.2 336,766 343.8,766 343.8,775.5 352.5,775.5 352.5,786.7 356.8,786.7 356.8,806.6 396.6,806.6 396.6,833.4 600.6,833.4" fill="none" stroke="#ff4000" stroke-width="2.8" stroke-linejoin="miter" stroke-linecap="square"/>
<polyline points="145.5,550.6 171.2,550.6 171.2,556.1 201.7,556.1 201.7,563.4 205.6,563.4 205.6,568.9 208.7,568.9 208.7,577.5 222.8,577.5 222.8,582.2 228.2,582.2 228.2,590 229.8,590 229.8,596.2 237.9,596.2 237.9,604.1 248.3,604.1 248.3,610.2 251,610.2 251,617.7 268.5,617.7 268.5,623.4 278.3,623.4 278.3,631.4 282.6,631.4 282.6,637 287.7,637 287.7,645 306.5,645 306.5,652 316.4,652 316.4,667.5 327.7,667.5 327.7,675.5 337.6,675.5 337.6,683 362,683 362,690.2 456.2,690.2 456.2,703.7 464,703.7 464,717.6 523.6,717.6 523.6,740 625.6,740" fill="none" stroke="#00b400" stroke-width="2.8" stroke-linejoin="miter" stroke-linecap="square"/>
<line x1="257.7" y1="617.7" x2="257.7" y2="610.7" stroke="#00b400" stroke-width="2.2" />
<line x1="292.4" y1="645" x2="292.4" y2="638" stroke="#00b400" stroke-width="2.2" />
<line x1="304.7" y1="645" x2="304.7" y2="638" stroke="#00b400" stroke-width="2.2" />
<line x1="354.7" y1="683" x2="354.7" y2="676" stroke="#00b400" stroke-width="2.2" />
<line x1="359.4" y1="683" x2="359.4" y2="676" stroke="#00b400" stroke-width="2.2" />
<line x1="394" y1="690.2" x2="394" y2="683.2" stroke="#00b400" stroke-width="2.2" />
<line x1="396.6" y1="690.2" x2="396.6" y2="683.2" stroke="#00b400" stroke-width="2.2" />
<line x1="400" y1="690.2" x2="400" y2="683.2" stroke="#00b400" stroke-width="2.2" />
<line x1="403.5" y1="690.2" x2="403.5" y2="683.2" stroke="#00b400" stroke-width="2.2" />
<line x1="414.7" y1="690.2" x2="414.7" y2="683.2" stroke="#00b400" stroke-width="2.2" />
<line x1="421.6" y1="690.2" x2="421.6" y2="683.2" stroke="#00b400" stroke-width="2.2" />
<line x1="424.2" y1="690.2" x2="424.2" y2="683.2" stroke="#00b400" stroke-width="2.2" />
<line x1="426.8" y1="690.2" x2="426.8" y2="683.2" stroke="#00b400" stroke-width="2.2" />
<line x1="436.3" y1="690.2" x2="436.3" y2="683.2" stroke="#00b400" stroke-width="2.2" />
<line x1="444.1" y1="690.2" x2="444.1" y2="683.2" stroke="#00b400" stroke-width="2.2" />
<line x1="460.5" y1="703.7" x2="460.5" y2="696.7" stroke="#00b400" stroke-width="2.2" />
<line x1="466.6" y1="717.6" x2="466.6" y2="710.6" stroke="#00b400" stroke-width="2.2" />
<line x1="488.2" y1="717.6" x2="488.2" y2="710.6" stroke="#00b400" stroke-width="2.2" />
<line x1="498.6" y1="717.6" x2="498.6" y2="710.6" stroke="#00b400" stroke-width="2.2" />
<line x1="501.2" y1="717.6" x2="501.2" y2="710.6" stroke="#00b400" stroke-width="2.2" />
<line x1="503.8" y1="717.6" x2="503.8" y2="710.6" stroke="#00b400" stroke-width="2.2" />
<line x1="533.1" y1="740" x2="533.1" y2="733" stroke="#00b400" stroke-width="2.2" />
<line x1="545.2" y1="740" x2="545.2" y2="733" stroke="#00b400" stroke-width="2.2" />
<line x1="553" y1="740" x2="553" y2="733" stroke="#00b400" stroke-width="2.2" />
<line x1="570.3" y1="740" x2="570.3" y2="733" stroke="#00b400" stroke-width="2.2" />
<line x1="615.3" y1="740" x2="615.3" y2="733" stroke="#00b400" stroke-width="2.2" />
<line x1="624.8" y1="740" x2="624.8" y2="733" stroke="#00b400" stroke-width="2.2" />
<line x1="302.3" y1="727.2" x2="302.3" y2="720.2" stroke="#ff4000" stroke-width="2.2" />
<line x1="342.3" y1="766" x2="342.3" y2="759" stroke="#ff4000" stroke-width="2.2" />
<line x1="364.6" y1="806.6" x2="364.6" y2="799.6" stroke="#ff4000" stroke-width="2.2" />
<line x1="394" y1="806.6" x2="394" y2="799.6" stroke="#ff4000" stroke-width="2.2" />
<line x1="401.7" y1="833.4" x2="401.7" y2="826.4" stroke="#ff4000" stroke-width="2.2" />
<line x1="416.4" y1="833.4" x2="416.4" y2="826.4" stroke="#ff4000" stroke-width="2.2" />
<line x1="528" y1="833.4" x2="528" y2="826.4" stroke="#ff4000" stroke-width="2.2" />
<line x1="599.7" y1="833.4" x2="599.7" y2="826.4" stroke="#ff4000" stroke-width="2.2" />
<line x1="545.2" y1="587" x2="585.8" y2="587" stroke="#00b400" stroke-width="3" />
<line x1="565.5" y1="587" x2="565.5" y2="580.3" stroke="#00b400" stroke-width="2.4" />
<line x1="545.2" y1="639" x2="585.8" y2="639" stroke="#ff4000" stroke-width="3" />
<line x1="565.5" y1="639" x2="565.5" y2="632.3" stroke="#ff4000" stroke-width="2.4" />
<text x="607.5" y="597" font-size="32">Low WTAP</text>
<text x="607.5" y="647.7" font-size="32">High WTAP</text>
<text x="202" y="810.2" font-size="31"><tspan font-style="italic">p</tspan>&lt;0.01</text>
<text x="770.5" y="539.3" font-size="53.5" font-weight="bold">E</text>
<text x="879" y="490" font-size="29.5" font-weight="bold">Univariate analysis</text>
<text x="1061.5" y="516.5" font-size="19" font-weight="bold" text-anchor="end">pvalue</text>
<text x="1275" y="516.5" font-size="19" font-weight="bold" text-anchor="end">Hazard ratio</text>
<text x="876" y="545.1" font-size="19">Tumour_size</text>
<text x="1061.5" y="545.1" font-size="19" text-anchor="end">0.040</text>
<text x="1275" y="545.1" font-size="19" text-anchor="end">1.714(1.026−2.865)</text>
<text x="876" y="572.7" font-size="19">Metastasis</text>
<text x="1061.5" y="572.7" font-size="19" text-anchor="end">&lt;0.001</text>
<text x="1275" y="572.7" font-size="19" text-anchor="end">4.414(2.538−7.678)</text>
<text x="876" y="599.8" font-size="19">TNM</text>
<text x="1061.5" y="599.8" font-size="19" text-anchor="end">0.014</text>
<text x="1275" y="599.8" font-size="19" text-anchor="end">1.912(1.139−3.211)</text>
<text x="876" y="628.6" font-size="19">Gender</text>
<text x="1061.5" y="628.6" font-size="19" text-anchor="end">0.406</text>
<text x="1275" y="628.6" font-size="19" text-anchor="end">1.241(0.746−2.067)</text>
<text x="876" y="654.5" font-size="19">Age</text>
<text x="1061.5" y="654.5" font-size="19" text-anchor="end">0.317</text>
<text x="1275" y="654.5" font-size="19" text-anchor="end">1.297(0.779−2.159)</text>
<text x="876" y="683.3" font-size="19">WTAP</text>
<text x="1061.5" y="683.3" font-size="19" text-anchor="end">&lt;0.001</text>
<text x="1275" y="683.3" font-size="19" text-anchor="end">1.352(1.201−1.522)</text>
<line x1="1346.4" y1="683.9" x2="1697.1" y2="683.9" stroke="#000" stroke-width="1.9" />
<line x1="1346.4" y1="683.9" x2="1346.4" y2="697.9" stroke="#000" stroke-width="1.9" />
<text x="1346.4" y="718.9" font-size="22" text-anchor="middle">0</text>
<line x1="1396.5" y1="683.9" x2="1396.5" y2="697.9" stroke="#000" stroke-width="1.9" />
<text x="1396.5" y="718.9" font-size="22" text-anchor="middle">1</text>
<line x1="1446.6" y1="683.9" x2="1446.6" y2="697.9" stroke="#000" stroke-width="1.9" />
<text x="1446.6" y="718.9" font-size="22" text-anchor="middle">2</text>
<line x1="1496.7" y1="683.9" x2="1496.7" y2="697.9" stroke="#000" stroke-width="1.9" />
<text x="1496.7" y="718.9" font-size="22" text-anchor="middle">3</text>
<line x1="1546.8" y1="683.9" x2="1546.8" y2="697.9" stroke="#000" stroke-width="1.9" />
<text x="1546.8" y="718.9" font-size="22" text-anchor="middle">4</text>
<line x1="1596.9" y1="683.9" x2="1596.9" y2="697.9" stroke="#000" stroke-width="1.9" />
<text x="1596.9" y="718.9" font-size="22" text-anchor="middle">5</text>
<line x1="1647" y1="683.9" x2="1647" y2="697.9" stroke="#000" stroke-width="1.9" />
<text x="1647" y="718.9" font-size="22" text-anchor="middle">6</text>
<line x1="1697.1" y1="683.9" x2="1697.1" y2="697.9" stroke="#000" stroke-width="1.9" />
<text x="1697.1" y="718.9" font-size="22" text-anchor="middle">7</text>
<line x1="1396.5" y1="512.9" x2="1396.5" y2="683.9" stroke="#000" stroke-width="2.6" stroke-dasharray="9,6"/>
<line x1="1397.8" y1="538.7" x2="1489.94" y2="538.7" stroke="#00008b" stroke-width="3.3" />
<line x1="1397.8" y1="530.7" x2="1397.8" y2="546.7" stroke="#00008b" stroke-width="3.3" />
<line x1="1489.94" y1="530.7" x2="1489.94" y2="546.7" stroke="#00008b" stroke-width="3.3" />
<rect x="1425.27" y="531.7" width="14" height="14" fill="#ff0000" />
<line x1="1473.55" y1="566.8" x2="1731.07" y2="566.8" stroke="#00008b" stroke-width="3.3" />
<line x1="1473.55" y1="558.8" x2="1473.55" y2="574.8" stroke="#00008b" stroke-width="3.3" />
<line x1="1731.07" y1="558.8" x2="1731.07" y2="574.8" stroke="#00008b" stroke-width="3.3" />
<rect x="1560.54" y="559.8" width="14" height="14" fill="#ff0000" />
<line x1="1403.46" y1="594.2" x2="1507.27" y2="594.2" stroke="#00008b" stroke-width="3.3" />
<line x1="1403.46" y1="586.2" x2="1403.46" y2="602.2" stroke="#00008b" stroke-width="3.3" />
<line x1="1507.27" y1="586.2" x2="1507.27" y2="602.2" stroke="#00008b" stroke-width="3.3" />
<rect x="1435.19" y="587.2" width="14" height="14" fill="#ff0000" />
<line x1="1383.77" y1="621.8" x2="1449.96" y2="621.8" stroke="#00008b" stroke-width="3.3" />
<line x1="1383.77" y1="613.8" x2="1383.77" y2="629.8" stroke="#00008b" stroke-width="3.3" />
<line x1="1449.96" y1="613.8" x2="1449.96" y2="629.8" stroke="#00008b" stroke-width="3.3" />
<rect x="1401.57" y="614.8" width="14" height="14" fill="#ff0000" />
<line x1="1385.43" y1="649.2" x2="1454.57" y2="649.2" stroke="#00008b" stroke-width="3.3" />
<line x1="1385.43" y1="641.2" x2="1385.43" y2="657.2" stroke="#00008b" stroke-width="3.3" />
<line x1="1454.57" y1="641.2" x2="1454.57" y2="657.2" stroke="#00008b" stroke-width="3.3" />
<rect x="1404.38" y="642.2" width="14" height="14" fill="#ff0000" />
<line x1="1406.57" y1="676.9" x2="1422.65" y2="676.9" stroke="#00008b" stroke-width="3.3" />
<line x1="1406.57" y1="668.9" x2="1406.57" y2="684.9" stroke="#00008b" stroke-width="3.3" />
<line x1="1422.65" y1="668.9" x2="1422.65" y2="684.9" stroke="#00008b" stroke-width="3.3" />
<rect x="1407.14" y="669.9" width="14" height="14" fill="#ff0000" />
<text x="1538.5" y="761.2" font-size="22.5" text-anchor="middle">Hazard ratio</text>
<text x="878" y="766.9" font-size="29.5" font-weight="bold" xml:space="preserve">Multivariate  analysis</text>
<text x="1058.5" y="810.1" font-size="19" font-weight="bold" text-anchor="end">pvalue</text>
<text x="1272" y="810.1" font-size="19" font-weight="bold" text-anchor="end">Hazard ratio</text>
<text x="873.5" y="837.7" font-size="19">Tumour_size</text>
<text x="1058.5" y="837.7" font-size="19" text-anchor="end">0.461</text>
<text x="1272" y="837.7" font-size="19" text-anchor="end">1.221(0.718−2.075)</text>
<text x="873.5" y="864.8" font-size="19">Metastasis</text>
<text x="1058.5" y="864.8" font-size="19" text-anchor="end">&lt;0.001</text>
<text x="1272" y="864.8" font-size="19" text-anchor="end">3.335(1.843−6.036)</text>
<text x="873.5" y="892.5" font-size="19">TNM</text>
<text x="1058.5" y="892.5" font-size="19" text-anchor="end">0.748</text>
<text x="1272" y="892.5" font-size="19" text-anchor="end">1.096(0.628−1.912)</text>
<text x="873.5" y="920.7" font-size="19">Gender</text>
<text x="1058.5" y="920.7" font-size="19" text-anchor="end">0.529</text>
<text x="1272" y="920.7" font-size="19" text-anchor="end">1.186(0.698−2.016)</text>
<text x="873.5" y="947.2" font-size="19">Age</text>
<text x="1058.5" y="947.2" font-size="19" text-anchor="end">0.128</text>
<text x="1272" y="947.2" font-size="19" text-anchor="end">1.518(0.887−2.597)</text>
<text x="873.5" y="976" font-size="19">WTAP</text>
<text x="1058.5" y="976" font-size="19" text-anchor="end">0.001</text>
<text x="1272" y="976" font-size="19" text-anchor="end">1.265(1.096−1.461)</text>
<line x1="1344.1" y1="977.2" x2="1726.3" y2="977.2" stroke="#000" stroke-width="1.9" />
<line x1="1344.1" y1="977.2" x2="1344.1" y2="991.2" stroke="#000" stroke-width="1.9" />
<text x="1344.1" y="1012.2" font-size="22" text-anchor="middle">0</text>
<line x1="1407.8" y1="977.2" x2="1407.8" y2="991.2" stroke="#000" stroke-width="1.9" />
<text x="1407.8" y="1012.2" font-size="22" text-anchor="middle">1</text>
<line x1="1471.5" y1="977.2" x2="1471.5" y2="991.2" stroke="#000" stroke-width="1.9" />
<text x="1471.5" y="1012.2" font-size="22" text-anchor="middle">2</text>
<line x1="1535.2" y1="977.2" x2="1535.2" y2="991.2" stroke="#000" stroke-width="1.9" />
<text x="1535.2" y="1012.2" font-size="22" text-anchor="middle">3</text>
<line x1="1598.9" y1="977.2" x2="1598.9" y2="991.2" stroke="#000" stroke-width="1.9" />
<text x="1598.9" y="1012.2" font-size="22" text-anchor="middle">4</text>
<line x1="1662.6" y1="977.2" x2="1662.6" y2="991.2" stroke="#000" stroke-width="1.9" />
<text x="1662.6" y="1012.2" font-size="22" text-anchor="middle">5</text>
<line x1="1726.3" y1="977.2" x2="1726.3" y2="991.2" stroke="#000" stroke-width="1.9" />
<text x="1726.3" y="1012.2" font-size="22" text-anchor="middle">6</text>
<line x1="1407.8" y1="806.7" x2="1407.8" y2="977.2" stroke="#000" stroke-width="2.6" stroke-dasharray="9,6"/>
<line x1="1389.84" y1="831.3" x2="1476.28" y2="831.3" stroke="#00008b" stroke-width="3.3" />
<line x1="1389.84" y1="823.3" x2="1389.84" y2="839.3" stroke="#00008b" stroke-width="3.3" />
<line x1="1476.28" y1="823.3" x2="1476.28" y2="839.3" stroke="#00008b" stroke-width="3.3" />
<rect x="1414.88" y="824.3" width="14" height="14" fill="#ff0000" />
<line x1="1461.5" y1="859.4" x2="1728.59" y2="859.4" stroke="#00008b" stroke-width="3.3" />
<line x1="1461.5" y1="851.4" x2="1461.5" y2="867.4" stroke="#00008b" stroke-width="3.3" />
<line x1="1728.59" y1="851.4" x2="1728.59" y2="867.4" stroke="#00008b" stroke-width="3.3" />
<rect x="1549.54" y="852.4" width="14" height="14" fill="#ff0000" />
<line x1="1384.1" y1="887.1" x2="1465.89" y2="887.1" stroke="#00008b" stroke-width="3.3" />
<line x1="1384.1" y1="879.1" x2="1384.1" y2="895.1" stroke="#00008b" stroke-width="3.3" />
<line x1="1465.89" y1="879.1" x2="1465.89" y2="895.1" stroke="#00008b" stroke-width="3.3" />
<rect x="1406.92" y="880.1" width="14" height="14" fill="#ff0000" />
<line x1="1388.56" y1="915.2" x2="1472.52" y2="915.2" stroke="#00008b" stroke-width="3.3" />
<line x1="1388.56" y1="907.2" x2="1388.56" y2="923.2" stroke="#00008b" stroke-width="3.3" />
<line x1="1472.52" y1="907.2" x2="1472.52" y2="923.2" stroke="#00008b" stroke-width="3.3" />
<rect x="1412.65" y="908.2" width="14" height="14" fill="#ff0000" />
<line x1="1400.6" y1="942.6" x2="1509.53" y2="942.6" stroke="#00008b" stroke-width="3.3" />
<line x1="1400.6" y1="934.6" x2="1400.6" y2="950.6" stroke="#00008b" stroke-width="3.3" />
<line x1="1509.53" y1="934.6" x2="1509.53" y2="950.6" stroke="#00008b" stroke-width="3.3" />
<rect x="1433.8" y="935.6" width="14" height="14" fill="#ff0000" />
<line x1="1413.92" y1="970.2" x2="1437.17" y2="970.2" stroke="#00008b" stroke-width="3.3" />
<line x1="1413.92" y1="962.2" x2="1413.92" y2="978.2" stroke="#00008b" stroke-width="3.3" />
<line x1="1437.17" y1="962.2" x2="1437.17" y2="978.2" stroke="#00008b" stroke-width="3.3" />
<rect x="1417.68" y="963.2" width="14" height="14" fill="#ff0000" />
<text x="1536.5" y="1054.5" font-size="22.5" text-anchor="middle">Hazard ratio</text>
<text x="4.8" y="1117" font-size="53.5" font-weight="bold">F</text>
<text x="69" y="1107.9" font-size="16.8">Points</text>
<text x="69" y="1167" font-size="16.8">Metastasis</text>
<text x="69" y="1226.2" font-size="16.8">WTAP</text>
<text x="69" y="1285" font-size="16.8">Total Points</text>
<text x="69" y="1343" font-size="16.8">3−year survival</text>
<text x="69" y="1401.7" font-size="16.8">5−year survival</text>
<line x1="247.6" y1="1101.7" x2="758" y2="1101.7" stroke="#000" stroke-width="1.8" />
<line x1="247.6" y1="1101.7" x2="247.6" y2="1096.3" stroke="#000" stroke-width="1.62" />
<line x1="260.36" y1="1101.7" x2="260.36" y2="1099" stroke="#000" stroke-width="1.62" />
<line x1="273.12" y1="1101.7" x2="273.12" y2="1099" stroke="#000" stroke-width="1.62" />
<line x1="285.88" y1="1101.7" x2="285.88" y2="1099" stroke="#000" stroke-width="1.62" />
<line x1="298.64" y1="1101.7" x2="298.64" y2="1096.3" stroke="#000" stroke-width="1.62" />
<line x1="311.4" y1="1101.7" x2="311.4" y2="1099" stroke="#000" stroke-width="1.62" />
<line x1="324.16" y1="1101.7" x2="324.16" y2="1099" stroke="#000" stroke-width="1.62" />
<line x1="336.92" y1="1101.7" x2="336.92" y2="1099" stroke="#000" stroke-width="1.62" />
<line x1="349.68" y1="1101.7" x2="349.68" y2="1096.3" stroke="#000" stroke-width="1.62" />
<line x1="362.44" y1="1101.7" x2="362.44" y2="1099" stroke="#000" stroke-width="1.62" />
<line x1="375.2" y1="1101.7" x2="375.2" y2="1099" stroke="#000" stroke-width="1.62" />
<line x1="387.96" y1="1101.7" x2="387.96" y2="1099" stroke="#000" stroke-width="1.62" />
<line x1="400.72" y1="1101.7" x2="400.72" y2="1096.3" stroke="#000" stroke-width="1.62" />
<line x1="413.48" y1="1101.7" x2="413.48" y2="1099" stroke="#000" stroke-width="1.62" />
<line x1="426.24" y1="1101.7" x2="426.24" y2="1099" stroke="#000" stroke-width="1.62" />
<line x1="439" y1="1101.7" x2="439" y2="1099" stroke="#000" stroke-width="1.62" />
<line x1="451.76" y1="1101.7" x2="451.76" y2="1096.3" stroke="#000" stroke-width="1.62" />
<line x1="464.52" y1="1101.7" x2="464.52" y2="1099" stroke="#000" stroke-width="1.62" />
<line x1="477.28" y1="1101.7" x2="477.28" y2="1099" stroke="#000" stroke-width="1.62" />
<line x1="490.04" y1="1101.7" x2="490.04" y2="1099" stroke="#000" stroke-width="1.62" />
<line x1="502.8" y1="1101.7" x2="502.8" y2="1096.3" stroke="#000" stroke-width="1.62" />
<line x1="515.56" y1="1101.7" x2="515.56" y2="1099" stroke="#000" stroke-width="1.62" />
<line x1="528.32" y1="1101.7" x2="528.32" y2="1099" stroke="#000" stroke-width="1.62" />
<line x1="541.08" y1="1101.7" x2="541.08" y2="1099" stroke="#000" stroke-width="1.62" />
<line x1="553.84" y1="1101.7" x2="553.84" y2="1096.3" stroke="#000" stroke-width="1.62" />
<line x1="566.6" y1="1101.7" x2="566.6" y2="1099" stroke="#000" stroke-width="1.62" />
<line x1="579.36" y1="1101.7" x2="579.36" y2="1099" stroke="#000" stroke-width="1.62" />
<line x1="592.12" y1="1101.7" x2="592.12" y2="1099" stroke="#000" stroke-width="1.62" />
<line x1="604.88" y1="1101.7" x2="604.88" y2="1096.3" stroke="#000" stroke-width="1.62" />
<line x1="617.64" y1="1101.7" x2="617.64" y2="1099" stroke="#000" stroke-width="1.62" />
<line x1="630.4" y1="1101.7" x2="630.4" y2="1099" stroke="#000" stroke-width="1.62" />
<line x1="643.16" y1="1101.7" x2="643.16" y2="1099" stroke="#000" stroke-width="1.62" />
<line x1="655.92" y1="1101.7" x2="655.92" y2="1096.3" stroke="#000" stroke-width="1.62" />
<line x1="668.68" y1="1101.7" x2="668.68" y2="1099" stroke="#000" stroke-width="1.62" />
<line x1="681.44" y1="1101.7" x2="681.44" y2="1099" stroke="#000" stroke-width="1.62" />
<line x1="694.2" y1="1101.7" x2="694.2" y2="1099" stroke="#000" stroke-width="1.62" />
<line x1="706.96" y1="1101.7" x2="706.96" y2="1096.3" stroke="#000" stroke-width="1.62" />
<line x1="719.72" y1="1101.7" x2="719.72" y2="1099" stroke="#000" stroke-width="1.62" />
<line x1="732.48" y1="1101.7" x2="732.48" y2="1099" stroke="#000" stroke-width="1.62" />
<line x1="745.24" y1="1101.7" x2="745.24" y2="1099" stroke="#000" stroke-width="1.62" />
<line x1="758" y1="1101.7" x2="758" y2="1096.3" stroke="#000" stroke-width="1.62" />
<text x="247.6" y="1089.6" font-size="14.5" text-anchor="middle">0</text>
<text x="298.64" y="1089.6" font-size="14.5" text-anchor="middle">10</text>
<text x="349.68" y="1089.6" font-size="14.5" text-anchor="middle">20</text>
<text x="400.72" y="1089.6" font-size="14.5" text-anchor="middle">30</text>
<text x="451.76" y="1089.6" font-size="14.5" text-anchor="middle">40</text>
<text x="502.8" y="1089.6" font-size="14.5" text-anchor="middle">50</text>
<text x="553.84" y="1089.6" font-size="14.5" text-anchor="middle">60</text>
<text x="604.88" y="1089.6" font-size="14.5" text-anchor="middle">70</text>
<text x="655.92" y="1089.6" font-size="14.5" text-anchor="middle">80</text>
<text x="706.96" y="1089.6" font-size="14.5" text-anchor="middle">90</text>
<text x="758" y="1089.6" font-size="14.5" text-anchor="middle">100</text>
<line x1="247.6" y1="1160.8" x2="415.01" y2="1160.8" stroke="#000" stroke-width="1.8" />
<line x1="247.6" y1="1160.8" x2="247.6" y2="1166" stroke="#000" stroke-width="1.8" />
<line x1="415.01" y1="1160.8" x2="415.01" y2="1155.6" stroke="#000" stroke-width="1.8" />
<text x="415.01" y="1148.5" font-size="13.5" text-anchor="middle">Yes</text>
<text x="247.6" y="1183.3" font-size="13.5" text-anchor="middle">No</text>
<line x1="247.6" y1="1219.9" x2="758" y2="1219.9" stroke="#000" stroke-width="1.8" />
<line x1="247.6" y1="1219.9" x2="247.6" y2="1225.3" stroke="#000" stroke-width="1.62" />
<text x="247.6" y="1242.2" font-size="14.5" text-anchor="middle">5</text>
<line x1="298.64" y1="1219.9" x2="298.64" y2="1225.3" stroke="#000" stroke-width="1.62" />
<text x="298.64" y="1242.2" font-size="14.5" text-anchor="middle">6</text>
<line x1="349.68" y1="1219.9" x2="349.68" y2="1225.3" stroke="#000" stroke-width="1.62" />
<text x="349.68" y="1242.2" font-size="14.5" text-anchor="middle">7</text>
<line x1="400.72" y1="1219.9" x2="400.72" y2="1225.3" stroke="#000" stroke-width="1.62" />
<text x="400.72" y="1242.2" font-size="14.5" text-anchor="middle">8</text>
<line x1="451.76" y1="1219.9" x2="451.76" y2="1225.3" stroke="#000" stroke-width="1.62" />
<text x="451.76" y="1242.2" font-size="14.5" text-anchor="middle">9</text>
<line x1="502.8" y1="1219.9" x2="502.8" y2="1225.3" stroke="#000" stroke-width="1.62" />
<text x="502.8" y="1242.2" font-size="14.5" text-anchor="middle">10</text>
<line x1="553.84" y1="1219.9" x2="553.84" y2="1225.3" stroke="#000" stroke-width="1.62" />
<text x="553.84" y="1242.2" font-size="14.5" text-anchor="middle">11</text>
<line x1="604.88" y1="1219.9" x2="604.88" y2="1225.3" stroke="#000" stroke-width="1.62" />
<text x="604.88" y="1242.2" font-size="14.5" text-anchor="middle">12</text>
<line x1="655.92" y1="1219.9" x2="655.92" y2="1225.3" stroke="#000" stroke-width="1.62" />
<text x="655.92" y="1242.2" font-size="14.5" text-anchor="middle">13</text>
<line x1="706.96" y1="1219.9" x2="706.96" y2="1225.3" stroke="#000" stroke-width="1.62" />
<text x="706.96" y="1242.2" font-size="14.5" text-anchor="middle">14</text>
<line x1="758" y1="1219.9" x2="758" y2="1225.3" stroke="#000" stroke-width="1.62" />
<text x="758" y="1242.2" font-size="14.5" text-anchor="middle">15</text>
<line x1="247.5" y1="1279" x2="758.38" y2="1279" stroke="#000" stroke-width="1.8" />
<line x1="247.5" y1="1279" x2="247.5" y2="1284.4" stroke="#000" stroke-width="1.62" />
<line x1="260.27" y1="1279" x2="260.27" y2="1281.7" stroke="#000" stroke-width="1.62" />
<line x1="273.04" y1="1279" x2="273.04" y2="1281.7" stroke="#000" stroke-width="1.62" />
<line x1="285.82" y1="1279" x2="285.82" y2="1281.7" stroke="#000" stroke-width="1.62" />
<line x1="298.59" y1="1279" x2="298.59" y2="1281.7" stroke="#000" stroke-width="1.62" />
<line x1="311.36" y1="1279" x2="311.36" y2="1284.4" stroke="#000" stroke-width="1.62" />
<line x1="324.13" y1="1279" x2="324.13" y2="1281.7" stroke="#000" stroke-width="1.62" />
<line x1="336.9" y1="1279" x2="336.9" y2="1281.7" stroke="#000" stroke-width="1.62" />
<line x1="349.68" y1="1279" x2="349.68" y2="1281.7" stroke="#000" stroke-width="1.62" />
<line x1="362.45" y1="1279" x2="362.45" y2="1281.7" stroke="#000" stroke-width="1.62" />
<line x1="375.22" y1="1279" x2="375.22" y2="1284.4" stroke="#000" stroke-width="1.62" />
<line x1="387.99" y1="1279" x2="387.99" y2="1281.7" stroke="#000" stroke-width="1.62" />
<line x1="400.76" y1="1279" x2="400.76" y2="1281.7" stroke="#000" stroke-width="1.62" />
<line x1="413.54" y1="1279" x2="413.54" y2="1281.7" stroke="#000" stroke-width="1.62" />
<line x1="426.31" y1="1279" x2="426.31" y2="1281.7" stroke="#000" stroke-width="1.62" />
<line x1="439.08" y1="1279" x2="439.08" y2="1284.4" stroke="#000" stroke-width="1.62" />
<line x1="451.85" y1="1279" x2="451.85" y2="1281.7" stroke="#000" stroke-width="1.62" />
<line x1="464.62" y1="1279" x2="464.62" y2="1281.7" stroke="#000" stroke-width="1.62" />
<line x1="477.4" y1="1279" x2="477.4" y2="1281.7" stroke="#000" stroke-width="1.62" />
<line x1="490.17" y1="1279" x2="490.17" y2="1281.7" stroke="#000" stroke-width="1.62" />
<line x1="502.94" y1="1279" x2="502.94" y2="1284.4" stroke="#000" stroke-width="1.62" />
<line x1="515.71" y1="1279" x2="515.71" y2="1281.7" stroke="#000" stroke-width="1.62" />
<line x1="528.48" y1="1279" x2="528.48" y2="1281.7" stroke="#000" stroke-width="1.62" />
<line x1="541.26" y1="1279" x2="541.26" y2="1281.7" stroke="#000" stroke-width="1.62" />
<line x1="554.03" y1="1279" x2="554.03" y2="1281.7" stroke="#000" stroke-width="1.62" />
<line x1="566.8" y1="1279" x2="566.8" y2="1284.4" stroke="#000" stroke-width="1.62" />
<line x1="579.57" y1="1279" x2="579.57" y2="1281.7" stroke="#000" stroke-width="1.62" />
<line x1="592.34" y1="1279" x2="592.34" y2="1281.7" stroke="#000" stroke-width="1.62" />
<line x1="605.12" y1="1279" x2="605.12" y2="1281.7" stroke="#000" stroke-width="1.62" />
<line x1="617.89" y1="1279" x2="617.89" y2="1281.7" stroke="#000" stroke-width="1.62" />
<line x1="630.66" y1="1279" x2="630.66" y2="1284.4" stroke="#000" stroke-width="1.62" />
<line x1="643.43" y1="1279" x2="643.43" y2="1281.7" stroke="#000" stroke-width="1.62" />
<line x1="656.2" y1="1279" x2="656.2" y2="1281.7" stroke="#000" stroke-width="1.62" />
<line x1="668.98" y1="1279" x2="668.98" y2="1281.7" stroke="#000" stroke-width="1.62" />
<line x1="681.75" y1="1279" x2="681.75" y2="1281.7" stroke="#000" stroke-width="1.62" />
<line x1="694.52" y1="1279" x2="694.52" y2="1284.4" stroke="#000" stroke-width="1.62" />
<line x1="707.29" y1="1279" x2="707.29" y2="1281.7" stroke="#000" stroke-width="1.62" />
<line x1="720.06" y1="1279" x2="720.06" y2="1281.7" stroke="#000" stroke-width="1.62" />
<line x1="732.84" y1="1279" x2="732.84" y2="1281.7" stroke="#000" stroke-width="1.62" />
<line x1="745.61" y1="1279" x2="745.61" y2="1281.7" stroke="#000" stroke-width="1.62" />
<line x1="758.38" y1="1279" x2="758.38" y2="1284.4" stroke="#000" stroke-width="1.62" />
<text x="247.5" y="1301.5" font-size="14.5" text-anchor="middle">0</text>
<text x="311.36" y="1301.5" font-size="14.5" text-anchor="middle">20</text>
<text x="375.22" y="1301.5" font-size="14.5" text-anchor="middle">40</text>
<text x="439.08" y="1301.5" font-size="14.5" text-anchor="middle">60</text>
<text x="502.94" y="1301.5" font-size="14.5" text-anchor="middle">80</text>
<text x="566.8" y="1301.5" font-size="14.5" text-anchor="middle">100</text>
<text x="630.66" y="1301.5" font-size="14.5" text-anchor="middle">120</text>
<text x="694.52" y="1301.5" font-size="14.5" text-anchor="middle">140</text>
<text x="758.38" y="1301.5" font-size="14.5" text-anchor="middle">160</text>
<line x1="328.4" y1="1338.2" x2="698.7" y2="1338.2" stroke="#000" stroke-width="1.8" />
<line x1="328.4" y1="1338.2" x2="328.4" y2="1343.5" stroke="#000" stroke-width="1.62" />
<text x="328.4" y="1360.6" font-size="14.5" text-anchor="middle">0.95</text>
<line x1="431" y1="1338.2" x2="431" y2="1343.5" stroke="#000" stroke-width="1.62" />
<text x="431" y="1360.6" font-size="14.5" text-anchor="middle">0.9</text>
<line x1="537.5" y1="1338.2" x2="537.5" y2="1343.5" stroke="#000" stroke-width="1.62" />
<text x="537.5" y="1360.6" font-size="14.5" text-anchor="middle">0.8</text>
<line x1="604.1" y1="1338.2" x2="604.1" y2="1343.5" stroke="#000" stroke-width="1.62" />
<text x="604.1" y="1360.6" font-size="14.5" text-anchor="middle">0.7</text>
<line x1="655.3" y1="1338.2" x2="655.3" y2="1343.5" stroke="#000" stroke-width="1.62" />
<text x="655.3" y="1360.6" font-size="14.5" text-anchor="middle">0.6</text>
<line x1="698.7" y1="1338.2" x2="698.7" y2="1343.5" stroke="#000" stroke-width="1.62" />
<text x="698.7" y="1360.6" font-size="14.5" text-anchor="middle">0.5</text>
<line x1="284.2" y1="1397.4" x2="672.4" y2="1397.4" stroke="#000" stroke-width="1.8" />
<line x1="284.2" y1="1397.4" x2="284.2" y2="1402.7" stroke="#000" stroke-width="1.62" />
<text x="284.2" y="1419.6" font-size="14.5" text-anchor="middle">0.9</text>
<line x1="390.9" y1="1397.4" x2="390.9" y2="1402.7" stroke="#000" stroke-width="1.62" />
<text x="390.9" y="1419.6" font-size="14.5" text-anchor="middle">0.8</text>
<line x1="457.8" y1="1397.4" x2="457.8" y2="1402.7" stroke="#000" stroke-width="1.62" />
<text x="457.8" y="1419.6" font-size="14.5" text-anchor="middle">0.7</text>
<line x1="508.8" y1="1397.4" x2="508.8" y2="1402.7" stroke="#000" stroke-width="1.62" />
<text x="508.8" y="1419.6" font-size="14.5" text-anchor="middle">0.6</text>
<line x1="552.1" y1="1397.4" x2="552.1" y2="1402.7" stroke="#000" stroke-width="1.62" />
<text x="552.1" y="1419.6" font-size="14.5" text-anchor="middle">0.5</text>
<line x1="591.7" y1="1397.4" x2="591.7" y2="1402.7" stroke="#000" stroke-width="1.62" />
<text x="591.7" y="1419.6" font-size="14.5" text-anchor="middle">0.4</text>
<line x1="630.8" y1="1397.4" x2="630.8" y2="1402.7" stroke="#000" stroke-width="1.62" />
<text x="630.8" y="1419.6" font-size="14.5" text-anchor="middle">0.3</text>
<line x1="672.4" y1="1397.4" x2="672.4" y2="1402.7" stroke="#000" stroke-width="1.62" />
<text x="672.4" y="1419.6" font-size="14.5" text-anchor="middle">0.2</text>
<line x1="886.25" y1="1356.64" x2="1260.75" y2="1107.76" stroke="#cfcfcf" stroke-width="1.4" />
<line x1="891.5" y1="1353.15" x2="1259" y2="1108.92" stroke="#000" stroke-width="2.7" stroke-dasharray="0.01,8.6" stroke-linecap="round"/>
<line x1="1165.97" y1="1107.7" x2="1165.97" y2="1112.7" stroke="#9a9a9a" stroke-width="0.9" />
<line x1="1200.79" y1="1107.7" x2="1200.79" y2="1112.7" stroke="#9a9a9a" stroke-width="0.9" />
<line x1="1182.4" y1="1107.7" x2="1182.4" y2="1112.7" stroke="#9a9a9a" stroke-width="0.9" />
<line x1="1206.53" y1="1107.7" x2="1206.53" y2="1112.7" stroke="#9a9a9a" stroke-width="0.9" />
<line x1="1208.56" y1="1107.7" x2="1208.56" y2="1112.7" stroke="#9a9a9a" stroke-width="0.9" />
<line x1="1136.79" y1="1107.7" x2="1136.79" y2="1112.7" stroke="#9a9a9a" stroke-width="0.9" />
<line x1="1121.34" y1="1107.7" x2="1121.34" y2="1112.7" stroke="#9a9a9a" stroke-width="0.9" />
<line x1="1227.06" y1="1107.7" x2="1227.06" y2="1112.7" stroke="#9a9a9a" stroke-width="0.9" />
<line x1="1168.85" y1="1107.7" x2="1168.85" y2="1112.7" stroke="#9a9a9a" stroke-width="0.9" />
<line x1="1165.48" y1="1107.7" x2="1165.48" y2="1112.7" stroke="#9a9a9a" stroke-width="0.9" />
<line x1="1239.66" y1="1107.7" x2="1239.66" y2="1112.7" stroke="#9a9a9a" stroke-width="0.9" />
<line x1="1193.33" y1="1107.7" x2="1193.33" y2="1112.7" stroke="#9a9a9a" stroke-width="0.9" />
<line x1="1226.97" y1="1107.7" x2="1226.97" y2="1112.7" stroke="#9a9a9a" stroke-width="0.9" />
<line x1="1193.96" y1="1107.7" x2="1193.96" y2="1112.7" stroke="#9a9a9a" stroke-width="0.9" />
<line x1="1209.8" y1="1107.7" x2="1209.8" y2="1112.7" stroke="#9a9a9a" stroke-width="0.9" />
<line x1="1152.97" y1="1107.7" x2="1152.97" y2="1112.7" stroke="#9a9a9a" stroke-width="0.9" />
<line x1="1209.41" y1="1107.7" x2="1209.41" y2="1112.7" stroke="#9a9a9a" stroke-width="0.9" />
<line x1="1229.56" y1="1107.7" x2="1229.56" y2="1112.7" stroke="#9a9a9a" stroke-width="0.9" />
<line x1="1198.71" y1="1107.7" x2="1198.71" y2="1112.7" stroke="#9a9a9a" stroke-width="0.9" />
<line x1="1218.92" y1="1107.7" x2="1218.92" y2="1112.7" stroke="#9a9a9a" stroke-width="0.9" />
<line x1="1212.74" y1="1107.7" x2="1212.74" y2="1112.7" stroke="#9a9a9a" stroke-width="0.9" />
<line x1="1136.44" y1="1107.7" x2="1136.44" y2="1112.7" stroke="#9a9a9a" stroke-width="0.9" />
<line x1="1220.38" y1="1107.7" x2="1220.38" y2="1112.7" stroke="#9a9a9a" stroke-width="0.9" />
<line x1="1205.32" y1="1107.7" x2="1205.32" y2="1112.7" stroke="#9a9a9a" stroke-width="0.9" />
<line x1="1174.21" y1="1107.7" x2="1174.21" y2="1112.7" stroke="#9a9a9a" stroke-width="0.9" />
<line x1="1127.75" y1="1107.7" x2="1127.75" y2="1112.7" stroke="#9a9a9a" stroke-width="0.9" />
<line x1="1229.36" y1="1107.7" x2="1229.36" y2="1112.7" stroke="#9a9a9a" stroke-width="0.9" />
<line x1="1193.58" y1="1107.7" x2="1193.58" y2="1112.7" stroke="#9a9a9a" stroke-width="0.9" />
<line x1="1216.96" y1="1107.7" x2="1216.96" y2="1112.7" stroke="#9a9a9a" stroke-width="0.9" />
<line x1="1230.44" y1="1107.7" x2="1230.44" y2="1112.7" stroke="#9a9a9a" stroke-width="0.9" />
<line x1="1216.55" y1="1107.7" x2="1216.55" y2="1112.7" stroke="#9a9a9a" stroke-width="0.9" />
<line x1="1233.83" y1="1107.7" x2="1233.83" y2="1112.7" stroke="#9a9a9a" stroke-width="0.9" />
<line x1="1185.22" y1="1107.7" x2="1185.22" y2="1112.7" stroke="#9a9a9a" stroke-width="0.9" />
<line x1="1224.01" y1="1107.7" x2="1224.01" y2="1112.7" stroke="#9a9a9a" stroke-width="0.9" />
<line x1="1190.63" y1="1107.7" x2="1190.63" y2="1112.7" stroke="#9a9a9a" stroke-width="0.9" />
<line x1="1234.98" y1="1107.7" x2="1234.98" y2="1112.7" stroke="#9a9a9a" stroke-width="0.9" />
<line x1="1230.44" y1="1107.7" x2="1230.44" y2="1112.7" stroke="#9a9a9a" stroke-width="0.9" />
<line x1="1143.51" y1="1107.7" x2="1143.51" y2="1112.7" stroke="#9a9a9a" stroke-width="0.9" />
<line x1="1150.52" y1="1107.7" x2="1150.52" y2="1112.7" stroke="#9a9a9a" stroke-width="0.9" />
<line x1="1163.06" y1="1107.7" x2="1163.06" y2="1112.7" stroke="#9a9a9a" stroke-width="0.9" />
<line x1="1237.33" y1="1107.7" x2="1237.33" y2="1112.7" stroke="#9a9a9a" stroke-width="0.9" />
<line x1="1189.72" y1="1107.7" x2="1189.72" y2="1112.7" stroke="#9a9a9a" stroke-width="0.9" />
<line x1="1208.65" y1="1107.7" x2="1208.65" y2="1112.7" stroke="#9a9a9a" stroke-width="0.9" />
<line x1="1174.18" y1="1107.7" x2="1174.18" y2="1112.7" stroke="#9a9a9a" stroke-width="0.9" />
<line x1="1197.11" y1="1107.7" x2="1197.11" y2="1112.7" stroke="#9a9a9a" stroke-width="0.9" />
<line x1="1184.2" y1="1107.7" x2="1184.2" y2="1112.7" stroke="#9a9a9a" stroke-width="0.9" />
<line x1="1180.19" y1="1107.7" x2="1180.19" y2="1112.7" stroke="#9a9a9a" stroke-width="0.9" />
<line x1="1204.74" y1="1107.7" x2="1204.74" y2="1112.7" stroke="#9a9a9a" stroke-width="0.9" />
<line x1="1204.66" y1="1107.7" x2="1204.66" y2="1112.7" stroke="#9a9a9a" stroke-width="0.9" />
<line x1="1232.48" y1="1107.7" x2="1232.48" y2="1112.7" stroke="#9a9a9a" stroke-width="0.9" />
<line x1="1213.69" y1="1107.7" x2="1213.69" y2="1112.7" stroke="#9a9a9a" stroke-width="0.9" />
<line x1="1234.45" y1="1107.7" x2="1234.45" y2="1112.7" stroke="#9a9a9a" stroke-width="0.9" />
<line x1="1228.61" y1="1107.7" x2="1228.61" y2="1112.7" stroke="#9a9a9a" stroke-width="0.9" />
<line x1="1239.31" y1="1107.7" x2="1239.31" y2="1112.7" stroke="#9a9a9a" stroke-width="0.9" />
<line x1="1212.73" y1="1107.7" x2="1212.73" y2="1112.7" stroke="#9a9a9a" stroke-width="0.9" />
<line x1="1154.99" y1="1107.7" x2="1154.99" y2="1112.7" stroke="#9a9a9a" stroke-width="0.9" />
<line x1="1228.96" y1="1107.7" x2="1228.96" y2="1112.7" stroke="#9a9a9a" stroke-width="0.9" />
<line x1="1237.26" y1="1107.7" x2="1237.26" y2="1112.7" stroke="#9a9a9a" stroke-width="0.9" />
<line x1="1232.52" y1="1107.7" x2="1232.52" y2="1112.7" stroke="#9a9a9a" stroke-width="0.9" />
<line x1="1203.21" y1="1107.7" x2="1203.21" y2="1112.7" stroke="#9a9a9a" stroke-width="0.9" />
<line x1="1216.52" y1="1107.7" x2="1216.52" y2="1112.7" stroke="#9a9a9a" stroke-width="0.9" />
<line x1="1162.22" y1="1107.7" x2="1162.22" y2="1112.7" stroke="#9a9a9a" stroke-width="0.9" />
<line x1="1226.57" y1="1107.7" x2="1226.57" y2="1112.7" stroke="#9a9a9a" stroke-width="0.9" />
<line x1="1203.64" y1="1107.7" x2="1203.64" y2="1112.7" stroke="#9a9a9a" stroke-width="0.9" />
<line x1="1172.16" y1="1107.7" x2="1172.16" y2="1112.7" stroke="#9a9a9a" stroke-width="0.9" />
<line x1="1136.31" y1="1107.7" x2="1136.31" y2="1112.7" stroke="#9a9a9a" stroke-width="0.9" />
<line x1="1228.41" y1="1107.7" x2="1228.41" y2="1112.7" stroke="#9a9a9a" stroke-width="0.9" />
<line x1="1239.21" y1="1107.7" x2="1239.21" y2="1112.7" stroke="#9a9a9a" stroke-width="0.9" />
<line x1="1141.73" y1="1107.7" x2="1141.73" y2="1112.7" stroke="#9a9a9a" stroke-width="0.9" />
<line x1="1223.99" y1="1107.7" x2="1223.99" y2="1112.7" stroke="#9a9a9a" stroke-width="0.9" />
<rect x="884" y="1106.7" width="379.0" height="251.0" fill="none" stroke="#000" stroke-width="1.8"/>
<line x1="898.5" y1="1357.7" x2="898.5" y2="1368.7" stroke="#000" stroke-width="1.8" />
<text x="898.5" y="1399" font-size="19.5" text-anchor="middle">0.0</text>
<line x1="884" y1="1348.5" x2="872.5" y2="1348.5" stroke="#000" stroke-width="1.8" />
<text x="855.5" y="1348.5" font-size="19.5" text-anchor="middle" transform="rotate(-90 855.5 1348.5)">0.0</text>
<line x1="968.5" y1="1357.7" x2="968.5" y2="1368.7" stroke="#000" stroke-width="1.8" />
<text x="968.5" y="1399" font-size="19.5" text-anchor="middle">0.2</text>
<line x1="884" y1="1301.98" x2="872.5" y2="1301.98" stroke="#000" stroke-width="1.8" />
<text x="855.5" y="1301.98" font-size="19.5" text-anchor="middle" transform="rotate(-90 855.5 1301.98)">0.2</text>
<line x1="1038.5" y1="1357.7" x2="1038.5" y2="1368.7" stroke="#000" stroke-width="1.8" />
<text x="1038.5" y="1399" font-size="19.5" text-anchor="middle">0.4</text>
<line x1="884" y1="1255.46" x2="872.5" y2="1255.46" stroke="#000" stroke-width="1.8" />
<text x="855.5" y="1255.46" font-size="19.5" text-anchor="middle" transform="rotate(-90 855.5 1255.46)">0.4</text>
<line x1="1108.5" y1="1357.7" x2="1108.5" y2="1368.7" stroke="#000" stroke-width="1.8" />
<text x="1108.5" y="1399" font-size="19.5" text-anchor="middle">0.6</text>
<line x1="884" y1="1208.94" x2="872.5" y2="1208.94" stroke="#000" stroke-width="1.8" />
<text x="855.5" y="1208.94" font-size="19.5" text-anchor="middle" transform="rotate(-90 855.5 1208.94)">0.6</text>
<line x1="1178.5" y1="1357.7" x2="1178.5" y2="1368.7" stroke="#000" stroke-width="1.8" />
<text x="1178.5" y="1399" font-size="19.5" text-anchor="middle">0.8</text>
<line x1="884" y1="1162.42" x2="872.5" y2="1162.42" stroke="#000" stroke-width="1.8" />
<text x="855.5" y="1162.42" font-size="19.5" text-anchor="middle" transform="rotate(-90 855.5 1162.42)">0.8</text>
<line x1="1248.5" y1="1357.7" x2="1248.5" y2="1368.7" stroke="#000" stroke-width="1.8" />
<text x="1248.5" y="1399" font-size="19.5" text-anchor="middle">1.0</text>
<line x1="884" y1="1115.9" x2="872.5" y2="1115.9" stroke="#000" stroke-width="1.8" />
<text x="855.5" y="1115.9" font-size="19.5" text-anchor="middle" transform="rotate(-90 855.5 1115.9)">1.0</text>
<text x="810" y="1232.2" font-size="19.5" text-anchor="middle" transform="rotate(-90 810 1232.2)">Actual 3−Year Survival</text>
<text x="1073" y="1445.5" font-size="19.4" text-anchor="middle">Nomogram−Predicted Probability of 3−Year Survival</text>
<line x1="1186.2" y1="1172.89" x2="1186.2" y2="1127.53" stroke="#000" stroke-width="3" />
<line x1="1180.7" y1="1172.89" x2="1191.7" y2="1172.89" stroke="#000" stroke-width="3" />
<line x1="1180.7" y1="1127.53" x2="1191.7" y2="1127.53" stroke="#000" stroke-width="3" />
<line x1="1228.9" y1="1150.32" x2="1228.9" y2="1115.9" stroke="#000" stroke-width="3" />
<line x1="1223.4" y1="1150.32" x2="1234.4" y2="1150.32" stroke="#000" stroke-width="3" />
<line x1="1223.4" y1="1115.9" x2="1234.4" y2="1115.9" stroke="#000" stroke-width="3" />
<line x1="1186.2" y1="1151.95" x2="1228.9" y2="1134.04" stroke="#0000ff" stroke-width="2" stroke-dasharray="7,5"/>
<circle cx="1186.2" cy="1151.95" r="4.5" fill="#0000ff" />
<line x1="1181.2" y1="1148.95" x2="1191.2" y2="1158.95" stroke="#0000ff" stroke-width="2" />
<line x1="1181.2" y1="1158.95" x2="1191.2" y2="1148.95" stroke="#0000ff" stroke-width="2" />
<circle cx="1228.9" cy="1134.04" r="4.5" fill="#0000ff" />
<line x1="1223.9" y1="1131.04" x2="1233.9" y2="1141.04" stroke="#0000ff" stroke-width="2" />
<line x1="1223.9" y1="1141.04" x2="1233.9" y2="1131.04" stroke="#0000ff" stroke-width="2" />
<line x1="1385.83" y1="1354.77" x2="1757.97" y2="1108.03" stroke="#cfcfcf" stroke-width="1.4" />
<line x1="1391.04" y1="1351.31" x2="1756.23" y2="1109.18" stroke="#000" stroke-width="2.7" stroke-dasharray="0.01,8.6" stroke-linecap="round"/>
<line x1="1622.84" y1="1107.8" x2="1622.84" y2="1112.8" stroke="#9a9a9a" stroke-width="0.9" />
<line x1="1561.21" y1="1107.8" x2="1561.21" y2="1112.8" stroke="#9a9a9a" stroke-width="0.9" />
<line x1="1598.06" y1="1107.8" x2="1598.06" y2="1112.8" stroke="#9a9a9a" stroke-width="0.9" />
<line x1="1685.22" y1="1107.8" x2="1685.22" y2="1112.8" stroke="#9a9a9a" stroke-width="0.9" />
<line x1="1700.95" y1="1107.8" x2="1700.95" y2="1112.8" stroke="#9a9a9a" stroke-width="0.9" />
<line x1="1522.22" y1="1107.8" x2="1522.22" y2="1112.8" stroke="#9a9a9a" stroke-width="0.9" />
<line x1="1660.22" y1="1107.8" x2="1660.22" y2="1112.8" stroke="#9a9a9a" stroke-width="0.9" />
<line x1="1522.59" y1="1107.8" x2="1522.59" y2="1112.8" stroke="#9a9a9a" stroke-width="0.9" />
<line x1="1677.31" y1="1107.8" x2="1677.31" y2="1112.8" stroke="#9a9a9a" stroke-width="0.9" />
<line x1="1606.31" y1="1107.8" x2="1606.31" y2="1112.8" stroke="#9a9a9a" stroke-width="0.9" />
<line x1="1702.14" y1="1107.8" x2="1702.14" y2="1112.8" stroke="#9a9a9a" stroke-width="0.9" />
<line x1="1716.48" y1="1107.8" x2="1716.48" y2="1112.8" stroke="#9a9a9a" stroke-width="0.9" />
<line x1="1640.99" y1="1107.8" x2="1640.99" y2="1112.8" stroke="#9a9a9a" stroke-width="0.9" />
<line x1="1718.99" y1="1107.8" x2="1718.99" y2="1112.8" stroke="#9a9a9a" stroke-width="0.9" />
<line x1="1601.62" y1="1107.8" x2="1601.62" y2="1112.8" stroke="#9a9a9a" stroke-width="0.9" />
<line x1="1536.38" y1="1107.8" x2="1536.38" y2="1112.8" stroke="#9a9a9a" stroke-width="0.9" />
<line x1="1657.71" y1="1107.8" x2="1657.71" y2="1112.8" stroke="#9a9a9a" stroke-width="0.9" />
<line x1="1515.57" y1="1107.8" x2="1515.57" y2="1112.8" stroke="#9a9a9a" stroke-width="0.9" />
<line x1="1574.34" y1="1107.8" x2="1574.34" y2="1112.8" stroke="#9a9a9a" stroke-width="0.9" />
<line x1="1622.34" y1="1107.8" x2="1622.34" y2="1112.8" stroke="#9a9a9a" stroke-width="0.9" />
<line x1="1659.53" y1="1107.8" x2="1659.53" y2="1112.8" stroke="#9a9a9a" stroke-width="0.9" />
<line x1="1562.82" y1="1107.8" x2="1562.82" y2="1112.8" stroke="#9a9a9a" stroke-width="0.9" />
<line x1="1521.36" y1="1107.8" x2="1521.36" y2="1112.8" stroke="#9a9a9a" stroke-width="0.9" />
<line x1="1700.21" y1="1107.8" x2="1700.21" y2="1112.8" stroke="#9a9a9a" stroke-width="0.9" />
<line x1="1602.54" y1="1107.8" x2="1602.54" y2="1112.8" stroke="#9a9a9a" stroke-width="0.9" />
<line x1="1713.38" y1="1107.8" x2="1713.38" y2="1112.8" stroke="#9a9a9a" stroke-width="0.9" />
<line x1="1704.45" y1="1107.8" x2="1704.45" y2="1112.8" stroke="#9a9a9a" stroke-width="0.9" />
<line x1="1616.22" y1="1107.8" x2="1616.22" y2="1112.8" stroke="#9a9a9a" stroke-width="0.9" />
<line x1="1632.57" y1="1107.8" x2="1632.57" y2="1112.8" stroke="#9a9a9a" stroke-width="0.9" />
<line x1="1643.66" y1="1107.8" x2="1643.66" y2="1112.8" stroke="#9a9a9a" stroke-width="0.9" />
<line x1="1665.16" y1="1107.8" x2="1665.16" y2="1112.8" stroke="#9a9a9a" stroke-width="0.9" />
<line x1="1657" y1="1107.8" x2="1657" y2="1112.8" stroke="#9a9a9a" stroke-width="0.9" />
<line x1="1650.67" y1="1107.8" x2="1650.67" y2="1112.8" stroke="#9a9a9a" stroke-width="0.9" />
<line x1="1661.17" y1="1107.8" x2="1661.17" y2="1112.8" stroke="#9a9a9a" stroke-width="0.9" />
<line x1="1710.8" y1="1107.8" x2="1710.8" y2="1112.8" stroke="#9a9a9a" stroke-width="0.9" />
<line x1="1641.28" y1="1107.8" x2="1641.28" y2="1112.8" stroke="#9a9a9a" stroke-width="0.9" />
<line x1="1626.94" y1="1107.8" x2="1626.94" y2="1112.8" stroke="#9a9a9a" stroke-width="0.9" />
<line x1="1677.6" y1="1107.8" x2="1677.6" y2="1112.8" stroke="#9a9a9a" stroke-width="0.9" />
<line x1="1584.69" y1="1107.8" x2="1584.69" y2="1112.8" stroke="#9a9a9a" stroke-width="0.9" />
<line x1="1599.69" y1="1107.8" x2="1599.69" y2="1112.8" stroke="#9a9a9a" stroke-width="0.9" />
<line x1="1716.08" y1="1107.8" x2="1716.08" y2="1112.8" stroke="#9a9a9a" stroke-width="0.9" />
<line x1="1643.85" y1="1107.8" x2="1643.85" y2="1112.8" stroke="#9a9a9a" stroke-width="0.9" />
<line x1="1648.75" y1="1107.8" x2="1648.75" y2="1112.8" stroke="#9a9a9a" stroke-width="0.9" />
<line x1="1502.34" y1="1107.8" x2="1502.34" y2="1112.8" stroke="#9a9a9a" stroke-width="0.9" />
<line x1="1623.79" y1="1107.8" x2="1623.79" y2="1112.8" stroke="#9a9a9a" stroke-width="0.9" />
<line x1="1654.29" y1="1107.8" x2="1654.29" y2="1112.8" stroke="#9a9a9a" stroke-width="0.9" />
<line x1="1508.7" y1="1107.8" x2="1508.7" y2="1112.8" stroke="#9a9a9a" stroke-width="0.9" />
<line x1="1660.44" y1="1107.8" x2="1660.44" y2="1112.8" stroke="#9a9a9a" stroke-width="0.9" />
<line x1="1663.2" y1="1107.8" x2="1663.2" y2="1112.8" stroke="#9a9a9a" stroke-width="0.9" />
<line x1="1529.47" y1="1107.8" x2="1529.47" y2="1112.8" stroke="#9a9a9a" stroke-width="0.9" />
<line x1="1662.39" y1="1107.8" x2="1662.39" y2="1112.8" stroke="#9a9a9a" stroke-width="0.9" />
<line x1="1633.68" y1="1107.8" x2="1633.68" y2="1112.8" stroke="#9a9a9a" stroke-width="0.9" />
<line x1="1670.99" y1="1107.8" x2="1670.99" y2="1112.8" stroke="#9a9a9a" stroke-width="0.9" />
<line x1="1610.95" y1="1107.8" x2="1610.95" y2="1112.8" stroke="#9a9a9a" stroke-width="0.9" />
<line x1="1675.47" y1="1107.8" x2="1675.47" y2="1112.8" stroke="#9a9a9a" stroke-width="0.9" />
<line x1="1680.41" y1="1107.8" x2="1680.41" y2="1112.8" stroke="#9a9a9a" stroke-width="0.9" />
<line x1="1510.09" y1="1107.8" x2="1510.09" y2="1112.8" stroke="#9a9a9a" stroke-width="0.9" />
<line x1="1529.69" y1="1107.8" x2="1529.69" y2="1112.8" stroke="#9a9a9a" stroke-width="0.9" />
<line x1="1670.46" y1="1107.8" x2="1670.46" y2="1112.8" stroke="#9a9a9a" stroke-width="0.9" />
<line x1="1714.04" y1="1107.8" x2="1714.04" y2="1112.8" stroke="#9a9a9a" stroke-width="0.9" />
<line x1="1588" y1="1107.8" x2="1588" y2="1112.8" stroke="#9a9a9a" stroke-width="0.9" />
<line x1="1631.79" y1="1107.8" x2="1631.79" y2="1112.8" stroke="#9a9a9a" stroke-width="0.9" />
<line x1="1656.49" y1="1107.8" x2="1656.49" y2="1112.8" stroke="#9a9a9a" stroke-width="0.9" />
<line x1="1603.92" y1="1107.8" x2="1603.92" y2="1112.8" stroke="#9a9a9a" stroke-width="0.9" />
<line x1="1613.34" y1="1107.8" x2="1613.34" y2="1112.8" stroke="#9a9a9a" stroke-width="0.9" />
<line x1="1602.29" y1="1107.8" x2="1602.29" y2="1112.8" stroke="#9a9a9a" stroke-width="0.9" />
<line x1="1614.43" y1="1107.8" x2="1614.43" y2="1112.8" stroke="#9a9a9a" stroke-width="0.9" />
<line x1="1656.99" y1="1107.8" x2="1656.99" y2="1112.8" stroke="#9a9a9a" stroke-width="0.9" />
<line x1="1599.54" y1="1107.8" x2="1599.54" y2="1112.8" stroke="#9a9a9a" stroke-width="0.9" />
<line x1="1616.09" y1="1107.8" x2="1616.09" y2="1112.8" stroke="#9a9a9a" stroke-width="0.9" />
<rect x="1384.5" y="1106.8" width="375.3" height="248.8" fill="none" stroke="#000" stroke-width="1.8"/>
<line x1="1398" y1="1355.6" x2="1398" y2="1366.6" stroke="#000" stroke-width="1.8" />
<text x="1398" y="1399" font-size="19.5" text-anchor="middle">0.0</text>
<line x1="1384.5" y1="1346.7" x2="1373" y2="1346.7" stroke="#000" stroke-width="1.8" />
<text x="1356" y="1346.7" font-size="19.5" text-anchor="middle" transform="rotate(-90 1356 1346.7)">0.0</text>
<line x1="1467.56" y1="1355.6" x2="1467.56" y2="1366.6" stroke="#000" stroke-width="1.8" />
<text x="1467.56" y="1399" font-size="19.5" text-anchor="middle">0.2</text>
<line x1="1384.5" y1="1300.58" x2="1373" y2="1300.58" stroke="#000" stroke-width="1.8" />
<text x="1356" y="1300.58" font-size="19.5" text-anchor="middle" transform="rotate(-90 1356 1300.58)">0.2</text>
<line x1="1537.12" y1="1355.6" x2="1537.12" y2="1366.6" stroke="#000" stroke-width="1.8" />
<text x="1537.12" y="1399" font-size="19.5" text-anchor="middle">0.4</text>
<line x1="1384.5" y1="1254.46" x2="1373" y2="1254.46" stroke="#000" stroke-width="1.8" />
<text x="1356" y="1254.46" font-size="19.5" text-anchor="middle" transform="rotate(-90 1356 1254.46)">0.4</text>
<line x1="1606.68" y1="1355.6" x2="1606.68" y2="1366.6" stroke="#000" stroke-width="1.8" />
<text x="1606.68" y="1399" font-size="19.5" text-anchor="middle">0.6</text>
<line x1="1384.5" y1="1208.34" x2="1373" y2="1208.34" stroke="#000" stroke-width="1.8" />
<text x="1356" y="1208.34" font-size="19.5" text-anchor="middle" transform="rotate(-90 1356 1208.34)">0.6</text>
<line x1="1676.24" y1="1355.6" x2="1676.24" y2="1366.6" stroke="#000" stroke-width="1.8" />
<text x="1676.24" y="1399" font-size="19.5" text-anchor="middle">0.8</text>
<line x1="1384.5" y1="1162.22" x2="1373" y2="1162.22" stroke="#000" stroke-width="1.8" />
<text x="1356" y="1162.22" font-size="19.5" text-anchor="middle" transform="rotate(-90 1356 1162.22)">0.8</text>
<line x1="1745.8" y1="1355.6" x2="1745.8" y2="1366.6" stroke="#000" stroke-width="1.8" />
<text x="1745.8" y="1399" font-size="19.5" text-anchor="middle">1.0</text>
<line x1="1384.5" y1="1116.1" x2="1373" y2="1116.1" stroke="#000" stroke-width="1.8" />
<text x="1356" y="1116.1" font-size="19.5" text-anchor="middle" transform="rotate(-90 1356 1116.1)">1.0</text>
<text x="1311" y="1231.6" font-size="19.5" text-anchor="middle" transform="rotate(-90 1311 1231.6)">Actual 5−Year Survival</text>
<text x="1571.2" y="1443.4" font-size="19.3" text-anchor="middle">Nomogram−Predicted Probability of 5−Year Survival</text>
<line x1="1604.25" y1="1233.71" x2="1604.25" y2="1171.44" stroke="#000" stroke-width="3" />
<line x1="1598.75" y1="1233.71" x2="1609.75" y2="1233.71" stroke="#000" stroke-width="3" />
<line x1="1598.75" y1="1171.44" x2="1609.75" y2="1171.44" stroke="#000" stroke-width="3" />
<line x1="1693.98" y1="1178.36" x2="1693.98" y2="1131.09" stroke="#000" stroke-width="3" />
<line x1="1688.48" y1="1178.36" x2="1699.48" y2="1178.36" stroke="#000" stroke-width="3" />
<line x1="1688.48" y1="1131.09" x2="1699.48" y2="1131.09" stroke="#000" stroke-width="3" />
<line x1="1614.25" y1="1200.11" x2="1684.98" y2="1161.38" stroke="#0000ff" stroke-width="2" />
<circle cx="1604.25" cy="1205.11" r="4.5" fill="#0000ff" />
<line x1="1599.25" y1="1202.11" x2="1609.25" y2="1212.11" stroke="#0000ff" stroke-width="2" />
<line x1="1599.25" y1="1212.11" x2="1609.25" y2="1202.11" stroke="#0000ff" stroke-width="2" />
<circle cx="1693.98" cy="1157.38" r="4.5" fill="#0000ff" />
<line x1="1688.98" y1="1154.38" x2="1698.98" y2="1164.38" stroke="#0000ff" stroke-width="2" />
<line x1="1688.98" y1="1164.38" x2="1698.98" y2="1154.38" stroke="#0000ff" stroke-width="2" />
<text x="3.5" y="1549.3" font-size="53" font-weight="bold">G</text>
<line x1="273.8" y1="1921" x2="273.8" y2="1933" stroke="#000" stroke-width="1.6" />
<text x="273.8" y="1958.3" font-size="20" text-anchor="middle">0.0</text>
<line x1="257.2" y1="1905.8" x2="245.2" y2="1905.8" stroke="#000" stroke-width="1.6" />
<text x="232.2" y="1905.8" font-size="20" text-anchor="middle" transform="rotate(-90 232.2 1905.8)">0.0</text>
<line x1="357.4" y1="1921" x2="357.4" y2="1933" stroke="#000" stroke-width="1.6" />
<text x="357.4" y="1958.3" font-size="20" text-anchor="middle">0.2</text>
<line x1="257.2" y1="1827.98" x2="245.2" y2="1827.98" stroke="#000" stroke-width="1.6" />
<text x="232.2" y="1827.98" font-size="20" text-anchor="middle" transform="rotate(-90 232.2 1827.98)">0.2</text>
<line x1="441" y1="1921" x2="441" y2="1933" stroke="#000" stroke-width="1.6" />
<text x="441" y="1958.3" font-size="20" text-anchor="middle">0.4</text>
<line x1="257.2" y1="1750.16" x2="245.2" y2="1750.16" stroke="#000" stroke-width="1.6" />
<text x="232.2" y="1750.16" font-size="20" text-anchor="middle" transform="rotate(-90 232.2 1750.16)">0.4</text>
<line x1="524.6" y1="1921" x2="524.6" y2="1933" stroke="#000" stroke-width="1.6" />
<text x="524.6" y="1958.3" font-size="20" text-anchor="middle">0.6</text>
<line x1="257.2" y1="1672.34" x2="245.2" y2="1672.34" stroke="#000" stroke-width="1.6" />
<text x="232.2" y="1672.34" font-size="20" text-anchor="middle" transform="rotate(-90 232.2 1672.34)">0.6</text>
<line x1="608.2" y1="1921" x2="608.2" y2="1933" stroke="#000" stroke-width="1.6" />
<text x="608.2" y="1958.3" font-size="20" text-anchor="middle">0.8</text>
<line x1="257.2" y1="1594.52" x2="245.2" y2="1594.52" stroke="#000" stroke-width="1.6" />
<text x="232.2" y="1594.52" font-size="20" text-anchor="middle" transform="rotate(-90 232.2 1594.52)">0.8</text>
<line x1="691.8" y1="1921" x2="691.8" y2="1933" stroke="#000" stroke-width="1.6" />
<text x="691.8" y="1958.3" font-size="20" text-anchor="middle">1.0</text>
<line x1="257.2" y1="1516.7" x2="245.2" y2="1516.7" stroke="#000" stroke-width="1.6" />
<text x="232.2" y="1516.7" font-size="20" text-anchor="middle" transform="rotate(-90 232.2 1516.7)">1.0</text>
<text x="191.6" y="1712.4" font-size="20" text-anchor="middle" transform="rotate(-90 191.6 1712.4)">True positive rate</text>
<text x="482.9" y="1998.6" font-size="20" text-anchor="middle">False positive rate</text>
<line x1="257.2" y1="1921" x2="708.9" y2="1500.9" stroke="#000" stroke-width="1.5"/>
<polyline points="273.8,1905.8 434.73,1719.03 691.8,1516.7" fill="none" stroke="#ff00ff" stroke-width="2.8" stroke-linejoin="round"/>
<polyline points="273.8,1905.8 460.65,1669.23 691.8,1516.7" fill="none" stroke="#00ffff" stroke-width="2.8" stroke-linejoin="round"/>
<polyline points="273.8,1905.8 445.18,1668.06 691.8,1516.7" fill="none" stroke="#0000ff" stroke-width="2.8" stroke-linejoin="round"/>
<polyline points="273.8,1905.8 412.99,1684.01 691.8,1516.7" fill="none" stroke="#00ff00" stroke-width="2.8" stroke-linejoin="round"/>
<polyline points="273.8,1905.8 418.01,1650.55 691.8,1516.7" fill="none" stroke="#ffff00" stroke-width="2.8" stroke-linejoin="round"/>
<polyline points="273.8,1905.8 273.8,1888.84 279.03,1888.84 279.03,1872.34 285.5,1872.34 295.12,1838.87 295.12,1805.02 325.92,1805.02 325.92,1770.16 330.23,1768.06 356.36,1769.23 366.81,1751.91 372.45,1751.91 376.63,1735.37 386.66,1735.37 402.96,1702.77 411.53,1702.77 435.44,1686.35 444.13,1686.35 452.7,1650.55 458.01,1650.55 459.35,1617.98 464.83,1600.75 474.44,1600.75 474.44,1584.01 484.05,1550.55 484.05,1533.24 499.73,1533.24 504.95,1515.92 691.8,1516.7" fill="none" stroke="#ff0000" stroke-width="2.8" stroke-linejoin="round"/>
<rect x="257.2" y="1500.9" width="451.7" height="420.1" fill="none" stroke="#000" stroke-width="1.6"/>
<line x1="450.9" y1="1797.2" x2="483.7" y2="1797.2" stroke="#ff0000" stroke-width="2.4" />
<text x="498.3" y="1803.5" font-size="17">WTAP (AUC=0.718)</text>
<line x1="450.9" y1="1817.8" x2="483.7" y2="1817.8" stroke="#ffff00" stroke-width="2.4" />
<text x="498.3" y="1824.1" font-size="17">Tumour_size (AUC=0.656)</text>
<line x1="450.9" y1="1838.7" x2="483.7" y2="1838.7" stroke="#00ff00" stroke-width="2.4" />
<text x="498.3" y="1845" font-size="17">Metastasis (AUC=0.619)</text>
<line x1="450.9" y1="1859.3" x2="483.7" y2="1859.3" stroke="#00ffff" stroke-width="2.4" />
<text x="498.3" y="1865.6" font-size="17">TNM (AUC=0.581)</text>
<line x1="450.9" y1="1879.9" x2="483.7" y2="1879.9" stroke="#0000ff" stroke-width="2.4" />
<text x="498.3" y="1886.2" font-size="17">Gender (AUC=0.599)</text>
<line x1="450.9" y1="1900.5" x2="483.7" y2="1900.5" stroke="#ff00ff" stroke-width="2.4" />
<text x="498.3" y="1906.8" font-size="17">Age (AUC=0.547)</text>
<text x="821.5" y="1568.9" font-size="54" font-weight="bold">H</text>
<rect x="1105.2" y="1847.03" width="73" height="47.97" fill="#000000" />
<line x1="1141.7" y1="1847.03" x2="1141.7" y2="1842.92" stroke="#000" stroke-width="3.2" />
<line x1="1125.2" y1="1842.92" x2="1158.2" y2="1842.92" stroke="#000" stroke-width="3.4" />
<rect x="1205.5" y="1690.32" width="73.1" height="204.68" fill="#a1a0a5" />
<line x1="1242.05" y1="1691.32" x2="1242.05" y2="1665.19" stroke="#000" stroke-width="3.2" />
<line x1="1225.55" y1="1665.19" x2="1258.55" y2="1665.19" stroke="#000" stroke-width="3.4" />
<rect x="1308" y="1756.11" width="70.7" height="138.89" fill="#808080" />
<line x1="1343.35" y1="1757.11" x2="1343.35" y2="1730.98" stroke="#000" stroke-width="3.2" />
<line x1="1326.85" y1="1730.98" x2="1359.85" y2="1730.98" stroke="#000" stroke-width="3.4" />
<rect x="1408.2" y="1663.36" width="72.9" height="231.64" fill="#d3d3d3" />
<line x1="1444.65" y1="1664.36" x2="1444.65" y2="1643.72" stroke="#000" stroke-width="3.2" />
<line x1="1428.15" y1="1643.72" x2="1461.15" y2="1643.72" stroke="#000" stroke-width="3.4" />
<rect x="1508.2" y="1695.8" width="73.2" height="199.2" fill="#606060" />
<line x1="1544.8" y1="1696.8" x2="1544.8" y2="1625.44" stroke="#000" stroke-width="3.2" />
<line x1="1528.3" y1="1625.44" x2="1561.3" y2="1625.44" stroke="#000" stroke-width="3.4" />
<rect x="1609" y="1746.06" width="72.6" height="148.94" fill="#a1a0a5" />
<line x1="1645.3" y1="1747.06" x2="1645.3" y2="1733.72" stroke="#000" stroke-width="3.2" />
<line x1="1628.8" y1="1733.72" x2="1661.8" y2="1733.72" stroke="#000" stroke-width="3.4" />
<line x1="1074.4" y1="1528" x2="1074.4" y2="1896.6" stroke="#000" stroke-width="3.3" />
<line x1="1065" y1="1895" x2="1074.4" y2="1895" stroke="#000" stroke-width="3.3" />
<text x="1058.6" y="1903.7" font-size="24.3" font-weight="bold" text-anchor="end">0</text>
<line x1="1065" y1="1803.62" x2="1074.4" y2="1803.62" stroke="#000" stroke-width="3.3" />
<text x="1058.6" y="1812.33" font-size="24.3" font-weight="bold" text-anchor="end">2</text>
<line x1="1065" y1="1712.25" x2="1074.4" y2="1712.25" stroke="#000" stroke-width="3.3" />
<text x="1058.6" y="1720.95" font-size="24.3" font-weight="bold" text-anchor="end">4</text>
<line x1="1065" y1="1620.88" x2="1074.4" y2="1620.88" stroke="#000" stroke-width="3.3" />
<text x="1058.6" y="1629.58" font-size="24.3" font-weight="bold" text-anchor="end">6</text>
<line x1="1065" y1="1529.5" x2="1074.4" y2="1529.5" stroke="#000" stroke-width="3.3" />
<text x="1058.6" y="1538.2" font-size="24.3" font-weight="bold" text-anchor="end">8</text>
<line x1="1065" y1="1895" x2="1714.5" y2="1895" stroke="#000" stroke-width="3.3" />
<line x1="1141.7" y1="1895" x2="1141.7" y2="1906.2" stroke="#000" stroke-width="3.3" />
<text x="1150.5" y="1927.5" font-size="27" font-weight="bold" text-anchor="end" transform="rotate(-45 1150.5 1927.5)">hFOB1.19</text>
<line x1="1242.05" y1="1895" x2="1242.05" y2="1906.2" stroke="#000" stroke-width="3.3" />
<text x="1251" y="1929.6" font-size="27" font-weight="bold" text-anchor="end" transform="rotate(-45 1251 1929.6)">HOS</text>
<line x1="1343.35" y1="1895" x2="1343.35" y2="1906.2" stroke="#000" stroke-width="3.3" />
<text x="1350.5" y="1926" font-size="27" font-weight="bold" text-anchor="end" transform="rotate(-45 1350.5 1926)">143B</text>
<line x1="1444.65" y1="1895" x2="1444.65" y2="1906.2" stroke="#000" stroke-width="3.3" />
<text x="1449" y="1926" font-size="27" font-weight="bold" text-anchor="end" transform="rotate(-45 1449 1926)">U2OS</text>
<line x1="1544.8" y1="1895" x2="1544.8" y2="1906.2" stroke="#000" stroke-width="3.3" />
<text x="1553" y="1928" font-size="27" font-weight="bold" text-anchor="end" transform="rotate(-45 1553 1928)">SJSA-1</text>
<line x1="1645.3" y1="1895" x2="1645.3" y2="1906.2" stroke="#000" stroke-width="3.3" />
<text x="1650.5" y="1926" font-size="27" font-weight="bold" text-anchor="end" transform="rotate(-45 1650.5 1926)">MG63</text>
<text x="1241.7" y="1664.5" font-size="40" text-anchor="middle">*</text>
<text x="1344.7" y="1724" font-size="40" text-anchor="middle">*</text>
<text x="1443.5" y="1644.1" font-size="40" text-anchor="middle">*</text>
<text x="1546.6" y="1628.8" font-size="40" text-anchor="middle">*</text>
<text x="1641.3" y="1731.2" font-size="40" text-anchor="middle">*</text>
<text x="1019.4" y="1710.9" font-size="35.7" font-weight="bold" text-anchor="middle" transform="rotate(-90 1019.4 1710.9)">Relative WTAP expression</text>
</svg></body></html>
